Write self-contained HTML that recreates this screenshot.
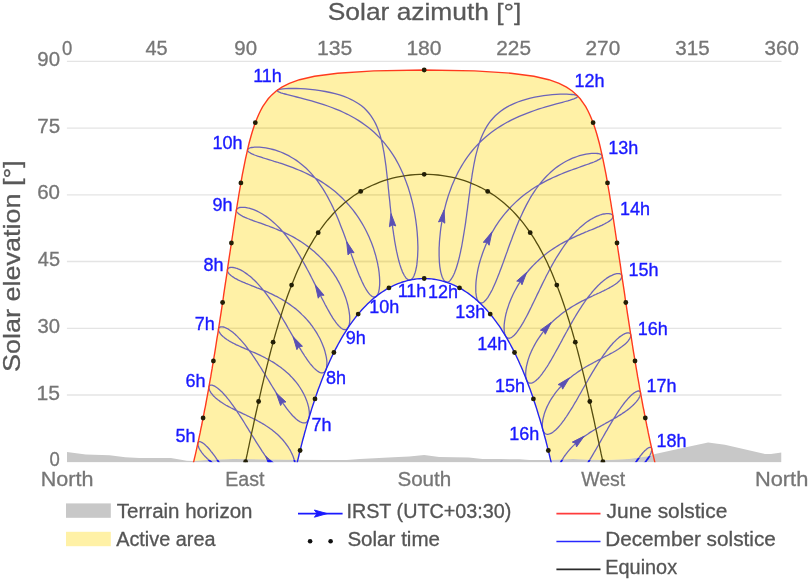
<!DOCTYPE html>
<html><head><meta charset="utf-8"><title>Sun path</title>
<style>html,body{margin:0;padding:0;background:#fff}svg{display:block}text{font-family:"Liberation Sans",sans-serif}</style>
</head><body>
<svg width="808" height="583" viewBox="0 0 808 583">
<defs><clipPath id="plot"><rect x="66.9" y="50" width="714.6" height="412.3"/></clipPath>
<clipPath id="sky"><path d="M66.9 39.1L66.9 451.9L85.8 454.5L109.6 455.3L125.3 457.3L139.2 457.9L170.9 457.9L186.8 460.8L193.9 461.0L205.9 459.9L233.6 458.9L265.4 459.5L289.2 459.7L325.0 460.1L346.8 460.1L359.9 458.9L393.4 457.3L409.3 456.5L424.2 454.9L439.1 456.9L468.7 457.5L482.6 458.9L500.0 459.1L519.5 459.3L529.4 460.1L551.2 460.1L573.1 458.9L589.0 459.7L608.8 459.9L628.7 458.9L649.9 455.9L655.1 454.0L680.1 448.4L708.1 442.5L724.9 444.8L765.0 454.0L771.0 454.1L781.5 452.4L781.5 39.1Z"/></clipPath><clipPath id="ter"><path d="M66.9 462.6L66.9 451.9L85.8 454.5L109.6 455.3L125.3 457.3L139.2 457.9L170.9 457.9L186.8 460.8L193.9 461.0L205.9 459.9L233.6 458.9L265.4 459.5L289.2 459.7L325.0 460.1L346.8 460.1L359.9 458.9L393.4 457.3L409.3 456.5L424.2 454.9L439.1 456.9L468.7 457.5L482.6 458.9L500.0 459.1L519.5 459.3L529.4 460.1L551.2 460.1L573.1 458.9L589.0 459.7L608.8 459.9L628.7 458.9L649.9 455.9L655.1 454.0L680.1 448.4L708.1 442.5L724.9 444.8L765.0 454.0L771.0 454.1L781.5 452.4L781.5 462.6Z"/></clipPath></defs>
<rect width="808" height="583" fill="#fff"/>
<line x1="66.9" x2="781.5" y1="395.0" y2="395.0" stroke="#e4e4e4" stroke-width="1.3"/>
<line x1="66.9" x2="781.5" y1="328.3" y2="328.3" stroke="#e4e4e4" stroke-width="1.3"/>
<line x1="66.9" x2="781.5" y1="261.5" y2="261.5" stroke="#e4e4e4" stroke-width="1.3"/>
<line x1="66.9" x2="781.5" y1="194.8" y2="194.8" stroke="#e4e4e4" stroke-width="1.3"/>
<line x1="66.9" x2="781.5" y1="128.1" y2="128.1" stroke="#e4e4e4" stroke-width="1.3"/>
<line x1="66.9" x2="781.5" y1="61.4" y2="61.4" stroke="#e4e4e4" stroke-width="1.3"/>
<g clip-path="url(#plot)">
<path d="M66.9 462.6L66.9 451.9L85.8 454.5L109.6 455.3L125.3 457.3L139.2 457.9L170.9 457.9L186.8 460.8L193.9 461.0L205.9 459.9L233.6 458.9L265.4 459.5L289.2 459.7L325.0 460.1L346.8 460.1L359.9 458.9L393.4 457.3L409.3 456.5L424.2 454.9L439.1 456.9L468.7 457.5L482.6 458.9L500.0 459.1L519.5 459.3L529.4 460.1L551.2 460.1L573.1 458.9L589.0 459.7L608.8 459.9L628.7 458.9L649.9 455.9L655.1 454.0L680.1 448.4L708.1 442.5L724.9 444.8L765.0 454.0L771.0 454.1L781.5 452.4L781.5 462.6Z" fill="#c8c8c8"/>
<path d="M282.2 531.5L281.7 532.1L281.1 532.7L280.5 533.2L279.9 533.5L279.2 533.9L278.4 534.1L277.6 534.2L276.8 534.3L275.9 534.3L274.9 534.1L274.0 533.9L273.0 533.6L271.9 533.2L270.9 532.7L269.8 532.2L268.6 531.5L267.5 530.7L266.3 529.9L265.1 528.9L263.9 527.9L262.6 526.8L261.4 525.6L260.1 524.3L258.8 522.9L257.5 521.5L256.2 519.9L254.9 518.3L253.6 516.7L252.3 515.0L251.0 513.2L249.6 511.4L248.3 509.5L247.0 507.6L245.7 505.6L244.3 503.6L243.0 501.6L241.7 499.5L240.4 497.4L239.1 495.3L237.8 493.2L236.5 491.1L235.2 489.0L234.0 486.8L232.7 484.7L231.4 482.6L230.2 480.5L228.9 478.5L227.7 476.4L226.5 474.4L225.3 472.4L224.1 470.5L222.9 468.6L221.7 466.7L220.6 464.9L219.4 463.1L218.3 461.4L217.2 459.8L216.1 458.2L215.1 456.7L214.0 455.2L213.0 453.8L212.0 452.5L211.0 451.3L210.1 450.1L209.2 449.0L208.3 448.0L207.4 447.0L206.5 446.2L205.7 445.4L205.0 444.7L204.2 444.0L203.5 443.5L202.8 443.0L202.2 442.6L201.6 442.3L201.0 442.0L200.5 441.8L200.1 441.7L199.6 441.7L199.2 441.7L198.9 441.8L198.6 441.9L198.4 442.2L198.2 442.4L198.0 442.8L197.9 443.1L197.9 443.6L197.9 444.1L197.9 444.6L198.0 445.2L198.2 445.8L198.4 446.4L198.6 447.1L198.9 447.8L199.3 448.6L199.7 449.3L200.1 450.1L200.7 450.9L201.2 451.7L201.8 452.6L202.5 453.4L203.2 454.3L203.9 455.2L204.7 456.1L205.6 456.9L206.5 457.8L207.4 458.7L208.4 459.6L209.4 460.5L210.4 461.3L211.5 462.2L212.7 463.1L213.8 463.9L215.0 464.8L216.3 465.6L217.6 466.5L218.9 467.3L220.2 468.1L221.5 468.9L222.9 469.7L224.3 470.5L225.7 471.3L227.2 472.1L228.7 472.9L230.1 473.6L231.6 474.4L233.1 475.2L234.7 475.9L236.2 476.7L237.7 477.5L239.3 478.3L240.8 479.0L242.4 479.8L243.9 480.6L245.5 481.4L247.0 482.2L248.5 483.0L250.1 483.8L251.6 484.7L253.1 485.5L254.6 486.4L256.1 487.3L257.5 488.2L259.0 489.2L260.4 490.1L261.8 491.1L263.1 492.1L264.5 493.1L265.8 494.1L267.1 495.2L268.3 496.2L269.5 497.3L270.7 498.5L271.8 499.6L272.9 500.8L274.0 501.9L275.0 503.1L275.9 504.3L276.8 505.6L277.7 506.8L278.5 508.0L279.3 509.3L280.0 510.5L280.6 511.8L281.2 513.1L281.8 514.3L282.3 515.6L282.7 516.8L283.1 518.0L283.4 519.2L283.6 520.4L283.8 521.6L284.0 522.7L284.0 523.8L284.1 524.9L284.0 525.9L283.9 526.9L283.7 527.9L283.5 528.8L283.2 529.6L282.9 530.4L282.5 531.1ZM293.4 475.4L292.9 475.9L292.3 476.3L291.7 476.7L291.1 476.9L290.4 477.1L289.7 477.2L288.9 477.2L288.1 477.2L287.2 477.0L286.3 476.7L285.4 476.3L284.4 475.9L283.5 475.3L282.4 474.7L281.4 474.0L280.3 473.1L279.2 472.2L278.1 471.2L277.0 470.1L275.8 469.0L274.7 467.7L273.5 466.4L272.3 465.0L271.0 463.5L269.8 461.9L268.6 460.3L267.3 458.6L266.1 456.9L264.8 455.1L263.5 453.2L262.2 451.3L261.0 449.4L259.7 447.4L258.4 445.4L257.1 443.4L255.8 441.3L254.5 439.2L253.2 437.1L251.9 435.0L250.6 432.9L249.3 430.8L248.0 428.7L246.7 426.6L245.4 424.5L244.2 422.5L242.9 420.4L241.6 418.4L240.3 416.4L239.1 414.5L237.8 412.6L236.6 410.7L235.4 408.9L234.1 407.1L232.9 405.4L231.7 403.8L230.5 402.2L229.4 400.6L228.2 399.2L227.1 397.8L226.0 396.4L224.9 395.2L223.8 394.0L222.8 392.9L221.8 391.8L220.8 390.9L219.8 390.0L218.9 389.2L218.0 388.4L217.1 387.8L216.3 387.2L215.5 386.7L214.7 386.2L214.0 385.9L213.3 385.6L212.7 385.4L212.1 385.2L211.6 385.1L211.1 385.1L210.6 385.1L210.2 385.2L209.9 385.4L209.6 385.6L209.3 385.9L209.1 386.2L209.0 386.6L208.9 387.0L208.9 387.4L208.9 387.9L209.0 388.4L209.1 389.0L209.3 389.5L209.5 390.1L209.8 390.8L210.2 391.4L210.6 392.1L211.0 392.8L211.5 393.5L212.1 394.2L212.7 394.9L213.3 395.7L214.1 396.4L214.8 397.1L215.6 397.9L216.5 398.6L217.4 399.4L218.3 400.1L219.3 400.8L220.3 401.6L221.4 402.3L222.5 403.0L223.6 403.8L224.8 404.5L226.0 405.2L227.3 405.9L228.6 406.6L229.9 407.3L231.2 408.0L232.6 408.7L234.0 409.4L235.4 410.1L236.9 410.8L238.3 411.5L239.8 412.2L241.3 412.9L242.8 413.6L244.4 414.3L245.9 415.0L247.5 415.8L249.0 416.5L250.6 417.3L252.1 418.0L253.7 418.8L255.3 419.6L256.8 420.4L258.4 421.3L259.9 422.1L261.5 423.0L263.0 423.9L264.5 424.8L266.0 425.8L267.5 426.7L269.0 427.7L270.4 428.8L271.9 429.8L273.3 430.9L274.6 432.0L276.0 433.2L277.3 434.3L278.6 435.5L279.8 436.7L281.0 438.0L282.2 439.2L283.3 440.5L284.4 441.8L285.4 443.1L286.4 444.5L287.4 445.8L288.3 447.2L289.1 448.5L290.0 449.9L290.7 451.3L291.4 452.7L292.1 454.1L292.7 455.4L293.2 456.8L293.7 458.2L294.1 459.5L294.5 460.8L294.8 462.1L295.0 463.4L295.2 464.6L295.4 465.8L295.5 467.0L295.5 468.1L295.4 469.1L295.4 470.2L295.2 471.1L295.0 472.0L294.7 472.9L294.4 473.7L294.1 474.4L293.7 475.0ZM306.8 421.9L306.3 422.3L305.7 422.6L305.1 422.8L304.4 422.9L303.7 422.9L303.0 422.8L302.2 422.7L301.4 422.4L300.6 422.0L299.7 421.6L298.8 421.0L297.8 420.4L296.8 419.6L295.8 418.8L294.8 417.8L293.8 416.8L292.7 415.7L291.6 414.5L290.5 413.2L289.4 411.8L288.2 410.4L287.0 408.9L285.9 407.3L284.7 405.6L283.4 403.9L282.2 402.1L281.0 400.2L279.7 398.3L278.5 396.4L277.2 394.4L275.9 392.3L274.6 390.2L273.3 388.1L272.0 386.0L270.7 383.9L269.4 381.7L268.1 379.5L266.7 377.3L265.4 375.1L264.1 373.0L262.7 370.8L261.4 368.6L260.0 366.5L258.6 364.3L257.3 362.2L255.9 360.2L254.6 358.1L253.2 356.2L251.9 354.2L250.5 352.3L249.2 350.5L247.8 348.7L246.5 346.9L245.2 345.2L243.9 343.6L242.6 342.1L241.3 340.6L240.0 339.2L238.7 337.9L237.5 336.6L236.3 335.4L235.1 334.3L233.9 333.3L232.8 332.3L231.7 331.5L230.6 330.7L229.5 330.0L228.5 329.3L227.6 328.7L226.6 328.3L225.7 327.8L224.9 327.5L224.1 327.2L223.3 327.0L222.6 326.9L222.0 326.8L221.4 326.8L220.8 326.9L220.3 327.0L219.9 327.1L219.5 327.3L219.2 327.6L218.9 327.9L218.7 328.2L218.6 328.6L218.5 329.0L218.5 329.5L218.5 330.0L218.6 330.5L218.8 331.0L219.0 331.6L219.3 332.1L219.7 332.7L220.1 333.3L220.5 333.9L221.0 334.5L221.6 335.2L222.2 335.8L222.9 336.5L223.7 337.1L224.5 337.7L225.3 338.4L226.2 339.0L227.2 339.7L228.2 340.3L229.2 341.0L230.3 341.6L231.5 342.2L232.6 342.9L233.9 343.5L235.1 344.1L236.4 344.8L237.8 345.4L239.1 346.0L240.5 346.7L242.0 347.3L243.4 347.9L244.9 348.6L246.4 349.2L248.0 349.9L249.6 350.6L251.1 351.3L252.7 352.0L254.4 352.7L256.0 353.4L257.6 354.1L259.3 354.9L260.9 355.7L262.6 356.5L264.3 357.3L265.9 358.2L267.6 359.1L269.3 360.0L270.9 361.0L272.6 361.9L274.2 362.9L275.8 364.0L277.4 365.1L279.0 366.2L280.6 367.3L282.1 368.5L283.7 369.7L285.2 370.9L286.6 372.2L288.1 373.5L289.5 374.8L290.8 376.2L292.2 377.6L293.4 379.0L294.7 380.5L295.9 381.9L297.1 383.4L298.2 384.9L299.3 386.5L300.3 388.0L301.2 389.5L302.2 391.1L303.0 392.7L303.9 394.2L304.6 395.8L305.3 397.3L306.0 398.9L306.6 400.4L307.1 401.9L307.6 403.4L308.0 404.9L308.4 406.3L308.7 407.7L308.9 409.1L309.1 410.4L309.3 411.6L309.3 412.9L309.4 414.0L309.3 415.2L309.2 416.2L309.1 417.2L308.9 418.1L308.6 419.0L308.3 419.7L308.0 420.4L307.6 421.1L307.1 421.6ZM323.6 372.5L323.1 372.7L322.4 372.8L321.8 372.9L321.1 372.8L320.4 372.6L319.6 372.3L318.8 371.9L318.0 371.4L317.1 370.8L316.2 370.1L315.3 369.3L314.3 368.4L313.3 367.4L312.3 366.2L311.3 365.0L310.3 363.8L309.2 362.4L308.1 360.9L307.0 359.3L305.9 357.7L304.7 356.0L303.6 354.2L302.4 352.3L301.2 350.4L300.0 348.4L298.7 346.4L297.5 344.3L296.2 342.1L294.9 339.9L293.6 337.7L292.3 335.4L291.0 333.1L289.7 330.8L288.3 328.5L287.0 326.1L285.6 323.7L284.2 321.4L282.8 319.0L281.4 316.6L280.0 314.3L278.5 311.9L277.1 309.6L275.6 307.3L274.1 305.0L272.6 302.8L271.1 300.6L269.6 298.5L268.1 296.4L266.6 294.3L265.1 292.4L263.5 290.4L262.0 288.6L260.5 286.8L259.0 285.1L257.4 283.4L255.9 281.8L254.4 280.3L252.9 278.9L251.5 277.6L250.0 276.3L248.5 275.2L247.1 274.1L245.7 273.1L244.4 272.2L243.0 271.3L241.8 270.6L240.5 269.9L239.3 269.4L238.1 268.9L237.0 268.4L235.9 268.1L234.9 267.8L233.9 267.6L233.0 267.5L232.2 267.4L231.4 267.4L230.7 267.4L230.1 267.5L229.5 267.7L229.0 267.9L228.5 268.2L228.2 268.4L227.9 268.8L227.6 269.1L227.5 269.5L227.4 270.0L227.4 270.4L227.5 270.9L227.6 271.4L227.8 271.9L228.1 272.4L228.5 273.0L228.9 273.5L229.4 274.1L229.9 274.6L230.6 275.2L231.3 275.8L232.0 276.3L232.9 276.9L233.8 277.5L234.7 278.1L235.7 278.7L236.8 279.2L237.9 279.8L239.1 280.4L240.4 281.0L241.7 281.6L243.0 282.2L244.4 282.7L245.8 283.3L247.3 283.9L248.8 284.5L250.4 285.2L252.0 285.8L253.6 286.4L255.3 287.1L257.0 287.8L258.7 288.4L260.5 289.1L262.3 289.9L264.1 290.6L265.9 291.4L267.7 292.2L269.6 293.1L271.4 293.9L273.3 294.8L275.2 295.8L277.1 296.7L278.9 297.7L280.8 298.8L282.7 299.9L284.5 301.0L286.4 302.2L288.2 303.4L290.0 304.6L291.8 305.9L293.6 307.3L295.4 308.6L297.1 310.1L298.8 311.5L300.4 313.0L302.0 314.6L303.6 316.1L305.2 317.7L306.7 319.4L308.1 321.0L309.6 322.7L310.9 324.5L312.2 326.2L313.5 328.0L314.7 329.8L315.9 331.6L317.0 333.4L318.0 335.2L319.0 337.0L320.0 338.8L320.9 340.7L321.7 342.5L322.4 344.2L323.1 346.0L323.8 347.8L324.4 349.5L324.9 351.2L325.3 352.9L325.7 354.5L326.1 356.1L326.4 357.6L326.6 359.1L326.8 360.5L326.9 361.9L326.9 363.2L326.9 364.4L326.8 365.6L326.7 366.7L326.6 367.7L326.3 368.6L326.1 369.5L325.7 370.2L325.4 370.9L325.0 371.5L324.5 371.9L324.0 372.3ZM345.3 329.6L344.6 329.6L344.0 329.5L343.3 329.3L342.5 328.9L341.8 328.5L341.0 327.9L340.2 327.2L339.3 326.4L338.4 325.5L337.5 324.4L336.6 323.3L335.7 322.1L334.7 320.7L333.7 319.3L332.7 317.8L331.7 316.1L330.6 314.4L329.6 312.6L328.5 310.7L327.4 308.7L326.3 306.6L325.1 304.5L324.0 302.3L322.8 300.0L321.6 297.7L320.4 295.3L319.2 292.8L317.9 290.3L316.7 287.8L315.4 285.2L314.1 282.6L312.8 280.0L311.4 277.3L310.1 274.6L308.7 272.0L307.2 269.3L305.8 266.6L304.3 263.9L302.8 261.2L301.3 258.6L299.8 255.9L298.2 253.3L296.6 250.7L295.0 248.2L293.3 245.7L291.6 243.2L289.9 240.8L288.2 238.5L286.4 236.2L284.7 234.0L282.9 231.9L281.0 229.8L279.2 227.8L277.3 225.9L275.5 224.1L273.6 222.4L271.7 220.8L269.9 219.2L268.0 217.8L266.1 216.4L264.3 215.2L262.4 214.0L260.6 213.0L258.8 212.0L257.1 211.1L255.4 210.4L253.7 209.7L252.1 209.1L250.6 208.6L249.1 208.2L247.6 207.9L246.3 207.6L245.0 207.4L243.8 207.3L242.7 207.3L241.6 207.3L240.7 207.4L239.8 207.5L239.1 207.7L238.4 208.0L237.8 208.3L237.3 208.6L237.0 208.9L236.7 209.3L236.5 209.7L236.4 210.1L236.4 210.6L236.5 211.1L236.7 211.5L237.0 212.0L237.4 212.6L237.9 213.1L238.5 213.6L239.1 214.1L239.9 214.6L240.7 215.2L241.7 215.7L242.7 216.3L243.8 216.8L245.0 217.4L246.2 217.9L247.6 218.5L249.0 219.0L250.4 219.6L252.0 220.2L253.6 220.8L255.2 221.4L257.0 222.0L258.8 222.6L260.6 223.2L262.5 223.9L264.5 224.6L266.4 225.3L268.5 226.0L270.5 226.8L272.7 227.6L274.8 228.5L277.0 229.3L279.1 230.3L281.3 231.2L283.6 232.2L285.8 233.3L288.1 234.4L290.3 235.5L292.6 236.7L294.8 237.9L297.0 239.2L299.3 240.6L301.5 242.0L303.7 243.5L305.8 245.0L308.0 246.6L310.1 248.2L312.2 249.9L314.2 251.6L316.2 253.4L318.2 255.2L320.1 257.1L322.0 259.0L323.8 260.9L325.5 262.9L327.2 265.0L328.9 267.0L330.5 269.1L332.0 271.3L333.5 273.4L334.9 275.6L336.3 277.7L337.5 279.9L338.8 282.1L339.9 284.3L341.0 286.5L342.0 288.7L343.0 290.9L343.9 293.0L344.7 295.2L345.5 297.3L346.2 299.4L346.8 301.4L347.4 303.5L347.9 305.4L348.3 307.3L348.7 309.2L349.0 311.0L349.3 312.8L349.5 314.5L349.7 316.1L349.7 317.6L349.8 319.1L349.7 320.5L349.7 321.8L349.5 323.0L349.4 324.1L349.1 325.1L348.8 326.0L348.5 326.9L348.1 327.6L347.7 328.2L347.3 328.7L346.8 329.1L346.2 329.4L345.7 329.6ZM373.1 296.8L372.4 296.5L371.7 296.1L371.0 295.6L370.2 294.9L369.5 294.1L368.7 293.2L367.9 292.1L367.1 291.0L366.3 289.7L365.5 288.3L364.6 286.8L363.8 285.2L362.9 283.4L362.0 281.6L361.2 279.7L360.3 277.6L359.3 275.5L358.4 273.3L357.5 271.0L356.6 268.6L355.6 266.1L354.6 263.5L353.7 260.9L352.7 258.2L351.7 255.5L350.7 252.6L349.6 249.8L348.6 246.8L347.5 243.9L346.4 240.9L345.3 237.8L344.2 234.7L343.0 231.6L341.8 228.5L340.6 225.4L339.4 222.2L338.1 219.1L336.8 216.0L335.4 212.8L334.0 209.7L332.6 206.6L331.1 203.5L329.5 200.5L327.9 197.4L326.3 194.5L324.6 191.6L322.8 188.7L320.9 185.9L319.0 183.1L317.1 180.4L315.0 177.9L312.9 175.3L310.7 172.9L308.5 170.6L306.2 168.3L303.8 166.2L301.4 164.2L298.9 162.2L296.4 160.4L293.8 158.7L291.2 157.2L288.6 155.7L285.9 154.4L283.3 153.1L280.7 152.0L278.1 151.1L275.5 150.2L273.0 149.5L270.5 148.8L268.1 148.3L265.8 147.9L263.6 147.6L261.5 147.3L259.6 147.2L257.7 147.1L256.0 147.1L254.5 147.2L253.1 147.3L251.8 147.5L250.7 147.7L249.8 148.0L249.0 148.3L248.4 148.7L247.9 149.1L247.6 149.5L247.5 149.9L247.5 150.4L247.7 150.9L248.1 151.3L248.6 151.8L249.2 152.3L250.0 152.8L250.9 153.4L252.0 153.9L253.2 154.4L254.5 155.0L256.0 155.5L257.6 156.1L259.3 156.6L261.1 157.2L263.1 157.9L265.1 158.5L267.2 159.1L269.5 159.8L271.8 160.5L274.2 161.3L276.7 162.0L279.3 162.9L281.9 163.7L284.6 164.6L287.3 165.6L290.1 166.6L293.0 167.6L295.8 168.8L298.7 170.0L301.6 171.2L304.5 172.5L307.4 173.9L310.3 175.4L313.2 176.9L316.0 178.5L318.9 180.1L321.7 181.9L324.5 183.7L327.2 185.6L329.9 187.5L332.5 189.5L335.1 191.6L337.6 193.8L340.0 196.0L342.4 198.3L344.7 200.6L347.0 203.0L349.1 205.4L351.2 207.9L353.3 210.4L355.2 213.0L357.1 215.6L358.8 218.2L360.5 220.9L362.2 223.6L363.7 226.3L365.2 229.0L366.6 231.7L367.9 234.4L369.1 237.1L370.3 239.9L371.4 242.6L372.4 245.3L373.4 247.9L374.2 250.6L375.0 253.2L375.8 255.8L376.4 258.3L377.0 260.8L377.6 263.3L378.0 265.7L378.5 268.0L378.8 270.3L379.1 272.5L379.3 274.7L379.5 276.7L379.6 278.7L379.7 280.6L379.7 282.4L379.7 284.1L379.6 285.8L379.4 287.3L379.3 288.7L379.0 290.1L378.8 291.3L378.5 292.4L378.1 293.4L377.7 294.3L377.3 295.0L376.9 295.7L376.4 296.2L375.8 296.6L375.3 296.9L374.7 297.0L374.1 297.1L373.5 297.0ZM406.9 278.8L406.2 278.2L405.6 277.4L405.0 276.5L404.3 275.5L403.7 274.3L403.1 273.1L402.4 271.7L401.8 270.1L401.2 268.5L400.6 266.7L400.0 264.9L399.4 262.9L398.8 260.8L398.3 258.6L397.7 256.3L397.2 253.9L396.6 251.4L396.1 248.8L395.6 246.2L395.1 243.4L394.6 240.6L394.2 237.7L393.7 234.7L393.3 231.6L392.8 228.5L392.4 225.3L392.0 222.1L391.6 218.8L391.2 215.5L390.8 212.1L390.5 208.7L390.1 205.3L389.8 201.8L389.4 198.3L389.0 194.8L388.7 191.3L388.3 187.7L388.0 184.2L387.6 180.6L387.2 177.0L386.8 173.5L386.4 170.0L386.0 166.4L385.5 162.9L385.0 159.4L384.5 156.0L384.0 152.6L383.3 149.2L382.7 145.8L382.0 142.5L381.2 139.3L380.3 136.1L379.3 132.9L378.2 129.8L377.0 126.8L375.7 123.9L374.2 121.0L372.6 118.3L370.8 115.6L368.8 113.0L366.6 110.5L364.2 108.1L361.5 105.8L358.6 103.7L355.3 101.7L351.8 99.8L348.0 98.0L344.0 96.4L339.6 94.9L335.0 93.6L330.2 92.5L325.3 91.5L320.2 90.6L315.1 89.9L310.1 89.3L305.3 88.9L300.6 88.6L296.3 88.5L292.3 88.4L288.7 88.5L285.6 88.6L283.0 88.8L280.9 89.1L279.2 89.4L278.1 89.8L277.4 90.2L277.3 90.6L277.5 91.1L278.3 91.6L279.4 92.2L280.9 92.8L282.8 93.4L285.0 94.0L287.5 94.7L290.3 95.4L293.4 96.2L296.7 97.0L300.2 97.9L303.8 98.8L307.6 99.8L311.6 100.9L315.5 102.1L319.6 103.3L323.7 104.6L327.7 106.0L331.8 107.5L335.8 109.1L339.8 110.7L343.7 112.5L347.5 114.3L351.2 116.3L354.8 118.3L358.3 120.4L361.7 122.6L365.0 124.9L368.1 127.3L371.2 129.8L374.1 132.3L376.9 135.0L379.5 137.6L382.1 140.4L384.5 143.2L386.8 146.1L389.1 149.1L391.2 152.1L393.2 155.1L395.1 158.2L396.9 161.4L398.6 164.5L400.2 167.8L401.7 171.0L403.2 174.3L404.5 177.6L405.8 180.9L407.0 184.2L408.2 187.5L409.2 190.9L410.2 194.2L411.1 197.5L412.0 200.8L412.8 204.2L413.5 207.4L414.2 210.7L414.8 214.0L415.3 217.2L415.8 220.4L416.2 223.5L416.6 226.6L416.9 229.6L417.2 232.6L417.4 235.6L417.6 238.4L417.7 241.3L417.8 244.0L417.9 246.7L417.9 249.3L417.8 251.8L417.7 254.2L417.6 256.6L417.4 258.8L417.2 260.9L417.0 263.0L416.8 264.9L416.5 266.8L416.1 268.5L415.8 270.1L415.4 271.6L415.0 273.0L414.5 274.3L414.1 275.5L413.6 276.5L413.1 277.4L412.6 278.1L412.0 278.8L411.5 279.3L410.9 279.7L410.3 279.9L409.7 280.0L409.1 280.0L408.5 279.9L407.9 279.6L407.3 279.1ZM443.3 279.3L442.8 278.3L442.3 277.3L441.9 276.1L441.5 274.8L441.1 273.3L440.7 271.8L440.4 270.1L440.1 268.4L439.8 266.5L439.6 264.5L439.4 262.4L439.3 260.2L439.2 258.0L439.1 255.6L439.1 253.1L439.1 250.6L439.1 248.0L439.3 245.3L439.4 242.5L439.6 239.7L439.9 236.8L440.2 233.8L440.5 230.8L440.9 227.7L441.4 224.6L441.9 221.5L442.5 218.3L443.2 215.1L443.9 211.8L444.7 208.6L445.5 205.3L446.4 202.0L447.4 198.7L448.4 195.4L449.6 192.1L450.8 188.7L452.0 185.4L453.4 182.2L454.8 178.9L456.4 175.7L458.0 172.4L459.7 169.3L461.5 166.1L463.4 163.0L465.4 159.9L467.5 156.9L469.7 153.9L472.0 151.0L474.4 148.2L476.9 145.4L479.5 142.7L482.3 140.1L485.1 137.5L488.1 135.0L491.2 132.6L494.3 130.3L497.6 128.0L501.0 125.9L504.5 123.8L508.0 121.8L511.7 119.9L515.4 118.1L519.2 116.4L523.0 114.8L526.8 113.3L530.7 111.8L534.5 110.5L538.3 109.2L542.1 108.0L545.8 106.9L549.4 105.9L552.9 104.9L556.3 103.9L559.4 103.1L562.4 102.3L565.2 101.5L567.8 100.8L570.1 100.1L572.2 99.4L573.9 98.8L575.4 98.2L576.5 97.7L577.2 97.1L577.6 96.6L577.7 96.2L577.3 95.8L576.6 95.4L575.4 95.0L573.8 94.7L571.8 94.5L569.5 94.3L566.7 94.2L563.6 94.2L560.1 94.2L556.3 94.4L552.3 94.7L548.1 95.1L543.7 95.7L539.3 96.4L534.8 97.2L530.4 98.2L526.0 99.3L521.8 100.6L517.8 102.0L513.9 103.6L510.2 105.3L506.8 107.1L503.6 109.1L500.6 111.2L497.9 113.4L495.3 115.7L493.0 118.2L490.8 120.7L488.8 123.4L487.0 126.1L485.4 128.9L483.9 131.8L482.5 134.8L481.2 137.8L480.0 140.9L479.0 144.1L478.0 147.3L477.1 150.6L476.2 153.9L475.4 157.2L474.7 160.6L474.0 164.0L473.4 167.5L472.8 170.9L472.2 174.4L471.7 177.9L471.1 181.4L470.6 184.9L470.1 188.5L469.7 192.0L469.2 195.5L468.7 198.9L468.3 202.4L467.8 205.9L467.4 209.3L466.9 212.7L466.5 216.0L466.0 219.3L465.6 222.6L465.1 225.8L464.6 229.0L464.1 232.1L463.6 235.2L463.1 238.2L462.6 241.1L462.1 244.0L461.6 246.8L461.0 249.5L460.5 252.1L459.9 254.6L459.4 257.0L458.8 259.4L458.2 261.6L457.6 263.8L457.0 265.8L456.4 267.7L455.8 269.6L455.1 271.3L454.5 272.9L453.9 274.3L453.2 275.7L452.6 276.9L451.9 278.0L451.3 279.0L450.7 279.8L450.0 280.6L449.4 281.2L448.8 281.6L448.1 281.9L447.5 282.1L446.9 282.2L446.3 282.1L445.7 281.9L445.2 281.6L444.6 281.1L444.1 280.5L443.6 279.8ZM476.8 298.1L476.5 296.9L476.3 295.7L476.1 294.3L475.9 292.9L475.8 291.3L475.8 289.7L475.8 287.9L475.8 286.1L475.9 284.2L476.0 282.2L476.2 280.1L476.5 278.0L476.8 275.7L477.2 273.5L477.6 271.1L478.1 268.7L478.7 266.2L479.3 263.7L480.0 261.2L480.8 258.6L481.7 256.0L482.6 253.3L483.5 250.7L484.6 248.0L485.7 245.3L486.9 242.6L488.2 239.9L489.5 237.2L490.9 234.5L492.4 231.8L494.0 229.1L495.6 226.4L497.3 223.8L499.1 221.2L501.0 218.6L502.9 216.1L504.9 213.6L507.0 211.2L509.2 208.8L511.4 206.4L513.7 204.1L516.0 201.9L518.4 199.7L520.9 197.6L523.4 195.6L526.0 193.6L528.6 191.7L531.2 189.8L533.9 188.0L536.6 186.3L539.3 184.7L542.1 183.1L544.8 181.6L547.6 180.2L550.4 178.8L553.1 177.5L555.9 176.3L558.6 175.1L561.3 174.0L563.9 172.9L566.5 171.9L569.1 170.9L571.6 170.0L574.0 169.1L576.4 168.3L578.7 167.5L580.9 166.7L583.1 165.9L585.1 165.2L587.1 164.5L588.9 163.9L590.7 163.2L592.3 162.6L593.9 162.0L595.3 161.4L596.6 160.8L597.7 160.2L598.8 159.7L599.7 159.1L600.5 158.6L601.1 158.1L601.6 157.6L602.0 157.1L602.2 156.6L602.3 156.1L602.2 155.7L602.0 155.3L601.6 154.9L601.0 154.5L600.4 154.2L599.5 153.9L598.6 153.7L597.5 153.5L596.2 153.4L594.8 153.3L593.3 153.3L591.6 153.4L589.8 153.6L588.0 153.8L586.0 154.1L583.9 154.6L581.7 155.1L579.5 155.7L577.2 156.5L574.8 157.3L572.5 158.2L570.0 159.3L567.6 160.5L565.2 161.8L562.7 163.2L560.3 164.7L557.9 166.4L555.6 168.1L553.2 170.0L550.9 172.0L548.7 174.1L546.5 176.2L544.4 178.5L542.3 180.9L540.3 183.3L538.3 185.8L536.4 188.5L534.6 191.1L532.8 193.9L531.0 196.7L529.4 199.5L527.8 202.4L526.2 205.4L524.7 208.4L523.2 211.4L521.8 214.5L520.4 217.5L519.0 220.6L517.7 223.7L516.4 226.8L515.2 229.9L514.0 233.0L512.8 236.1L511.7 239.2L510.5 242.2L509.4 245.3L508.3 248.2L507.3 251.2L506.2 254.1L505.2 257.0L504.2 259.8L503.2 262.6L502.2 265.3L501.2 267.9L500.2 270.5L499.3 273.0L498.3 275.4L497.4 277.8L496.5 280.0L495.6 282.2L494.7 284.3L493.8 286.3L492.9 288.2L492.1 290.0L491.2 291.6L490.3 293.2L489.5 294.7L488.7 296.0L487.9 297.3L487.1 298.4L486.3 299.4L485.6 300.3L484.8 301.0L484.1 301.7L483.4 302.2L482.7 302.6L482.0 302.8L481.4 303.0L480.8 303.0L480.2 302.9L479.7 302.7L479.1 302.3L478.6 301.8L478.2 301.2L477.8 300.5L477.4 299.7L477.0 298.7ZM504.3 331.4L504.2 330.2L504.1 328.9L504.1 327.5L504.1 326.0L504.2 324.5L504.4 322.8L504.6 321.1L504.9 319.4L505.2 317.5L505.6 315.7L506.0 313.7L506.6 311.7L507.1 309.7L507.8 307.7L508.5 305.6L509.2 303.4L510.1 301.3L511.0 299.1L511.9 296.9L512.9 294.7L514.0 292.5L515.2 290.3L516.4 288.1L517.6 285.9L519.0 283.7L520.4 281.5L521.8 279.4L523.3 277.2L524.9 275.1L526.5 273.1L528.2 271.0L529.9 269.0L531.7 267.0L533.5 265.1L535.4 263.2L537.3 261.4L539.3 259.6L541.3 257.8L543.3 256.1L545.3 254.4L547.4 252.8L549.5 251.3L551.7 249.8L553.8 248.4L555.9 247.0L558.1 245.6L560.3 244.3L562.4 243.1L564.6 241.9L566.8 240.8L568.9 239.7L571.1 238.6L573.2 237.6L575.3 236.6L577.3 235.7L579.4 234.8L581.4 233.9L583.4 233.1L585.3 232.2L587.2 231.5L589.0 230.7L590.8 230.0L592.6 229.3L594.3 228.6L595.9 227.9L597.5 227.2L599.0 226.6L600.4 225.9L601.8 225.3L603.1 224.6L604.4 224.0L605.5 223.4L606.6 222.8L607.6 222.2L608.5 221.6L609.4 221.1L610.1 220.5L610.8 219.9L611.4 219.4L611.9 218.8L612.3 218.3L612.6 217.8L612.8 217.3L612.9 216.8L613.0 216.3L612.9 215.9L612.7 215.5L612.5 215.1L612.2 214.7L611.7 214.4L611.2 214.2L610.6 213.9L609.9 213.8L609.1 213.6L608.2 213.6L607.3 213.6L606.2 213.6L605.1 213.8L603.9 214.0L602.6 214.2L601.3 214.6L599.9 215.0L598.5 215.6L597.0 216.2L595.4 216.9L593.8 217.7L592.2 218.6L590.5 219.5L588.9 220.6L587.1 221.8L585.4 223.0L583.7 224.4L581.9 225.9L580.1 227.4L578.4 229.1L576.6 230.8L574.9 232.6L573.1 234.5L571.4 236.5L569.7 238.5L568.0 240.7L566.3 242.9L564.6 245.1L563.0 247.5L561.4 249.9L559.8 252.3L558.2 254.8L556.6 257.3L555.1 259.9L553.6 262.5L552.1 265.1L550.7 267.8L549.2 270.5L547.8 273.2L546.4 275.8L545.1 278.5L543.7 281.2L542.4 283.9L541.1 286.6L539.8 289.2L538.6 291.9L537.3 294.4L536.1 297.0L534.9 299.5L533.7 302.0L532.5 304.4L531.4 306.8L530.2 309.1L529.1 311.4L528.0 313.6L526.9 315.7L525.8 317.7L524.7 319.7L523.7 321.6L522.7 323.4L521.6 325.1L520.7 326.7L519.7 328.2L518.7 329.6L517.8 330.9L516.9 332.2L516.0 333.3L515.1 334.3L514.2 335.2L513.4 335.9L512.6 336.6L511.8 337.2L511.1 337.6L510.4 337.9L509.7 338.1L509.0 338.3L508.4 338.2L507.8 338.1L507.3 337.9L506.8 337.5L506.3 337.1L505.9 336.5L505.5 335.8L505.2 335.1L504.9 334.2L504.6 333.2L504.4 332.1ZM525.7 374.7L525.7 373.4L525.7 372.1L525.9 370.7L526.0 369.3L526.2 367.8L526.5 366.2L526.9 364.6L527.3 363.0L527.7 361.3L528.2 359.6L528.8 357.9L529.4 356.1L530.1 354.3L530.9 352.5L531.7 350.6L532.6 348.8L533.5 347.0L534.5 345.1L535.5 343.3L536.6 341.4L537.7 339.6L538.9 337.8L540.2 336.0L541.5 334.2L542.8 332.4L544.2 330.7L545.7 328.9L547.1 327.2L548.7 325.6L550.2 324.0L551.8 322.4L553.4 320.8L555.1 319.3L556.8 317.8L558.5 316.4L560.2 315.0L562.0 313.6L563.7 312.3L565.5 311.0L567.3 309.8L569.2 308.6L571.0 307.4L572.8 306.3L574.6 305.2L576.5 304.1L578.3 303.1L580.1 302.1L581.9 301.2L583.7 300.3L585.5 299.4L587.3 298.5L589.0 297.6L590.8 296.8L592.5 296.0L594.1 295.2L595.8 294.5L597.4 293.7L599.0 293.0L600.5 292.3L602.0 291.5L603.5 290.8L604.9 290.1L606.3 289.5L607.6 288.8L608.9 288.1L610.1 287.4L611.3 286.8L612.4 286.1L613.5 285.5L614.5 284.8L615.4 284.2L616.3 283.5L617.1 282.9L617.9 282.2L618.6 281.6L619.2 281.0L619.8 280.4L620.3 279.8L620.8 279.2L621.1 278.6L621.4 278.1L621.6 277.5L621.8 277.0L621.9 276.5L621.9 276.1L621.8 275.6L621.7 275.2L621.5 274.9L621.2 274.5L620.9 274.3L620.5 274.0L620.0 273.8L619.5 273.7L618.9 273.6L618.2 273.6L617.5 273.6L616.7 273.7L615.8 273.9L614.9 274.1L614.0 274.4L612.9 274.8L611.9 275.3L610.8 275.8L609.6 276.4L608.5 277.1L607.2 277.9L606.0 278.8L604.7 279.7L603.4 280.8L602.0 281.9L600.7 283.1L599.3 284.4L597.9 285.8L596.5 287.2L595.1 288.7L593.6 290.4L592.2 292.0L590.8 293.8L589.3 295.6L587.9 297.5L586.4 299.5L585.0 301.5L583.5 303.6L582.1 305.7L580.7 307.9L579.2 310.1L577.8 312.3L576.4 314.6L575.0 317.0L573.6 319.3L572.3 321.7L570.9 324.1L569.5 326.5L568.2 328.9L566.9 331.3L565.5 333.7L564.2 336.1L562.9 338.5L561.7 340.9L560.4 343.2L559.1 345.6L557.9 347.9L556.6 350.1L555.4 352.3L554.2 354.5L553.0 356.6L551.8 358.7L550.7 360.7L549.5 362.6L548.4 364.5L547.3 366.3L546.1 368.0L545.1 369.6L544.0 371.2L542.9 372.7L541.9 374.1L540.9 375.4L539.9 376.6L538.9 377.7L538.0 378.7L537.0 379.6L536.1 380.4L535.3 381.1L534.4 381.7L533.6 382.2L532.8 382.6L532.1 382.9L531.4 383.1L530.7 383.2L530.0 383.2L529.4 383.1L528.9 382.8L528.3 382.5L527.9 382.1L527.4 381.6L527.0 380.9L526.7 380.2L526.4 379.4L526.2 378.6L526.0 377.6L525.8 376.5L525.7 375.4ZM542.3 424.3L542.4 423.0L542.6 421.8L542.7 420.4L543.0 419.0L543.3 417.6L543.7 416.2L544.1 414.7L544.5 413.2L545.1 411.6L545.7 410.1L546.3 408.5L547.0 406.9L547.8 405.3L548.6 403.7L549.4 402.1L550.3 400.5L551.3 398.9L552.3 397.3L553.4 395.8L554.5 394.2L555.6 392.7L556.8 391.1L558.1 389.6L559.3 388.2L560.7 386.7L562.0 385.3L563.4 383.9L564.8 382.5L566.3 381.1L567.7 379.8L569.2 378.5L570.8 377.3L572.3 376.0L573.9 374.8L575.5 373.7L577.1 372.5L578.7 371.4L580.3 370.4L581.9 369.3L583.6 368.3L585.2 367.3L586.9 366.3L588.5 365.4L590.1 364.5L591.8 363.6L593.4 362.7L595.0 361.8L596.6 361.0L598.2 360.2L599.8 359.4L601.3 358.6L602.8 357.8L604.3 357.0L605.8 356.2L607.3 355.5L608.7 354.7L610.1 353.9L611.5 353.2L612.8 352.5L614.1 351.7L615.4 351.0L616.6 350.2L617.8 349.5L618.9 348.8L620.0 348.0L621.0 347.3L622.0 346.6L623.0 345.8L623.9 345.1L624.7 344.4L625.5 343.7L626.3 343.0L627.0 342.3L627.6 341.6L628.2 340.9L628.7 340.2L629.2 339.5L629.6 338.9L629.9 338.3L630.2 337.7L630.5 337.1L630.6 336.5L630.8 336.0L630.8 335.5L630.8 335.0L630.7 334.6L630.6 334.2L630.4 333.9L630.2 333.6L629.9 333.3L629.6 333.1L629.1 333.0L628.7 332.9L628.2 332.9L627.6 332.9L627.0 333.0L626.3 333.2L625.6 333.4L624.8 333.7L624.0 334.1L623.2 334.5L622.3 335.1L621.4 335.7L620.4 336.4L619.4 337.1L618.4 338.0L617.3 338.9L616.3 339.9L615.2 341.0L614.0 342.1L612.9 343.3L611.7 344.7L610.5 346.0L609.3 347.5L608.1 349.0L606.8 350.6L605.6 352.3L604.3 354.0L603.0 355.8L601.8 357.7L600.5 359.6L599.2 361.5L597.9 363.5L596.6 365.6L595.3 367.7L594.0 369.8L592.7 371.9L591.4 374.1L590.1 376.3L588.8 378.5L587.6 380.8L586.3 383.0L585.0 385.3L583.7 387.5L582.4 389.8L581.2 392.0L579.9 394.3L578.6 396.5L577.4 398.7L576.2 400.8L574.9 402.9L573.7 405.0L572.5 407.1L571.2 409.1L570.0 411.0L568.8 412.9L567.7 414.7L566.5 416.5L565.3 418.2L564.2 419.8L563.0 421.4L561.9 422.9L560.8 424.3L559.7 425.6L558.7 426.8L557.6 428.0L556.6 429.0L555.6 430.0L554.6 430.8L553.7 431.6L552.8 432.3L551.9 432.9L551.0 433.3L550.2 433.7L549.4 434.0L548.6 434.2L547.9 434.3L547.2 434.3L546.5 434.2L545.9 434.0L545.4 433.7L544.8 433.3L544.4 432.8L543.9 432.3L543.6 431.6L543.2 430.9L542.9 430.1L542.7 429.2L542.5 428.3L542.4 427.2L542.3 426.2L542.3 425.0ZM555.7 477.9L555.8 476.7L556.0 475.5L556.3 474.2L556.6 472.9L556.9 471.5L557.4 470.2L557.8 468.8L558.4 467.4L559.0 466.0L559.6 464.6L560.3 463.1L561.1 461.7L561.9 460.3L562.7 458.9L563.6 457.5L564.6 456.0L565.6 454.7L566.6 453.3L567.7 451.9L568.8 450.6L570.0 449.2L571.2 447.9L572.4 446.6L573.7 445.4L575.0 444.1L576.3 442.9L577.7 441.7L579.1 440.5L580.5 439.4L582.0 438.2L583.4 437.1L584.9 436.0L586.4 435.0L587.9 434.0L589.4 432.9L591.0 431.9L592.5 431.0L594.1 430.0L595.6 429.1L597.2 428.2L598.7 427.3L600.3 426.4L601.8 425.5L603.4 424.6L604.9 423.8L606.4 422.9L607.9 422.1L609.4 421.2L610.9 420.4L612.4 419.6L613.8 418.7L615.3 417.9L616.7 417.1L618.0 416.3L619.4 415.4L620.7 414.6L622.0 413.8L623.2 412.9L624.5 412.1L625.6 411.3L626.8 410.4L627.9 409.6L629.0 408.8L630.0 407.9L631.0 407.1L631.9 406.3L632.8 405.4L633.7 404.6L634.5 403.8L635.3 402.9L636.0 402.1L636.6 401.3L637.3 400.5L637.8 399.8L638.3 399.0L638.8 398.3L639.2 397.5L639.6 396.8L639.9 396.2L640.1 395.5L640.3 394.9L640.4 394.3L640.5 393.8L640.6 393.3L640.5 392.8L640.5 392.4L640.3 392.0L640.2 391.7L639.9 391.5L639.6 391.3L639.3 391.1L638.9 391.0L638.5 391.0L638.1 391.0L637.5 391.1L637.0 391.3L636.4 391.6L635.7 391.9L635.1 392.3L634.3 392.8L633.6 393.3L632.8 393.9L632.0 394.6L631.1 395.4L630.2 396.3L629.3 397.2L628.3 398.2L627.4 399.3L626.4 400.5L625.4 401.7L624.3 403.0L623.3 404.4L622.2 405.9L621.1 407.4L620.0 409.0L618.8 410.7L617.7 412.4L616.5 414.2L615.4 416.0L614.2 417.9L613.0 419.8L611.8 421.8L610.6 423.8L609.4 425.9L608.2 427.9L607.0 430.1L605.7 432.2L604.5 434.4L603.3 436.5L602.0 438.7L600.8 440.9L599.5 443.1L598.3 445.3L597.0 447.5L595.8 449.7L594.5 451.8L593.3 453.9L592.0 456.1L590.8 458.1L589.5 460.2L588.3 462.2L587.0 464.1L585.8 466.1L584.6 467.9L583.4 469.7L582.1 471.5L580.9 473.1L579.7 474.7L578.5 476.3L577.4 477.7L576.2 479.1L575.0 480.4L573.9 481.7L572.8 482.8L571.7 483.8L570.6 484.8L569.6 485.7L568.5 486.4L567.5 487.1L566.6 487.7L565.6 488.2L564.7 488.6L563.8 488.9L563.0 489.1L562.2 489.2L561.4 489.2L560.7 489.2L560.0 489.0L559.4 488.7L558.8 488.4L558.2 488.0L557.7 487.5L557.3 486.9L556.9 486.2L556.5 485.5L556.2 484.7L556.0 483.9L555.8 482.9L555.7 481.9L555.6 480.9L555.6 479.8L555.6 478.7ZM566.8 534.2L567.0 533.0L567.2 531.8L567.6 530.6L567.9 529.3L568.4 528.1L568.8 526.8L569.4 525.5L570.0 524.2L570.7 522.9L571.4 521.6L572.1 520.3L573.0 519.0L573.8 517.7L574.7 516.4L575.7 515.1L576.7 513.9L577.8 512.6L578.9 511.4L580.0 510.2L581.2 509.0L582.4 507.8L583.7 506.6L585.0 505.5L586.3 504.4L587.6 503.3L589.0 502.2L590.4 501.1L591.8 500.0L593.3 499.0L594.7 498.0L596.2 497.0L597.7 496.0L599.2 495.0L600.8 494.0L602.3 493.1L603.8 492.1L605.4 491.2L606.9 490.2L608.5 489.3L610.0 488.4L611.6 487.5L613.1 486.6L614.7 485.6L616.2 484.7L617.7 483.8L619.2 482.9L620.7 482.0L622.2 481.1L623.6 480.1L625.1 479.2L626.5 478.3L627.9 477.3L629.2 476.4L630.6 475.4L631.9 474.5L633.1 473.5L634.4 472.5L635.6 471.6L636.8 470.6L637.9 469.6L639.0 468.6L640.1 467.6L641.1 466.6L642.1 465.6L643.0 464.6L643.9 463.7L644.8 462.7L645.6 461.7L646.3 460.8L647.0 459.8L647.7 458.9L648.3 458.0L648.9 457.1L649.4 456.2L649.9 455.3L650.3 454.5L650.6 453.7L651.0 453.0L651.2 452.2L651.4 451.5L651.6 450.9L651.7 450.3L651.8 449.7L651.8 449.2L651.7 448.8L651.6 448.4L651.5 448.0L651.3 447.8L651.1 447.6L650.8 447.4L650.5 447.3L650.1 447.3L649.7 447.4L649.3 447.5L648.8 447.7L648.2 448.0L647.7 448.3L647.1 448.7L646.4 449.3L645.8 449.9L645.0 450.5L644.3 451.3L643.5 452.1L642.7 453.0L641.9 454.0L641.0 455.1L640.1 456.2L639.2 457.5L638.3 458.8L637.3 460.1L636.4 461.6L635.4 463.1L634.4 464.7L633.3 466.3L632.3 468.1L631.2 469.8L630.1 471.7L629.0 473.5L627.9 475.5L626.8 477.5L625.6 479.5L624.5 481.5L623.3 483.6L622.1 485.8L620.9 487.9L619.7 490.1L618.5 492.3L617.3 494.5L616.1 496.7L614.8 498.9L613.6 501.2L612.4 503.4L611.1 505.6L609.8 507.8L608.6 509.9L607.3 512.1L606.0 514.2L604.7 516.3L603.4 518.4L602.1 520.4L600.8 522.3L599.6 524.2L598.3 526.1L597.0 527.9L595.7 529.6L594.4 531.3L593.1 532.8L591.8 534.4L590.6 535.8L589.3 537.1L588.1 538.4L586.9 539.6L585.6 540.7L584.4 541.7L583.3 542.6L582.1 543.5L581.0 544.2L579.9 544.8L578.8 545.4L577.8 545.8L576.8 546.2L575.8 546.4L574.9 546.6L574.0 546.6L573.1 546.6L572.3 546.5L571.6 546.3L570.9 546.0L570.2 545.7L569.6 545.2L569.0 544.7L568.5 544.1L568.1 543.5L567.7 542.7L567.4 541.9L567.1 541.1L566.9 540.2L566.7 539.2L566.6 538.2L566.6 537.1L566.6 536.0L566.7 534.9Z" fill="none" stroke="#1a1af0" stroke-width="1.8" clip-path="url(#ter)"/>
<path d="M244.7 465.7L245.6 461.7L246.4 457.7L247.3 453.7L248.1 449.6L249.0 445.6L249.8 441.6L250.7 437.6L251.5 433.6L252.4 429.6L253.3 425.6L254.1 421.6L255.0 417.5L255.9 413.5L256.8 409.5L257.7 405.5L258.6 401.5L259.5 397.6L260.4 393.6L261.3 389.6L262.2 385.6L263.2 381.6L264.1 377.7L265.1 373.7L266.0 369.8L267.0 365.8L268.0 361.9L269.0 357.9L270.0 354.0L271.0 350.1L272.1 346.2L273.1 342.2L274.2 338.4L275.3 334.5L276.4 330.6L277.6 326.7L278.7 322.9L279.9 319.0L281.1 315.2L282.3 311.4L283.5 307.6L284.8 303.8L286.1 300.0L287.4 296.3L288.8 292.5L290.2 288.8L291.6 285.1L293.1 281.4L294.6 277.7L296.1 274.1L297.6 270.5L299.3 266.9L300.9 263.3L302.6 259.8L304.4 256.3L306.2 252.8L308.0 249.4L309.9 245.9L311.9 242.6L313.9 239.2L316.0 235.9L318.2 232.7L320.4 229.5L322.7 226.3L325.1 223.2L327.5 220.2L330.1 217.2L332.7 214.3L335.4 211.4L338.2 208.6L341.1 205.9L344.1 203.3L347.2 200.7L350.4 198.2L353.7 195.8L357.1 193.6L360.7 191.4L364.3 189.3L368.0 187.3L371.8 185.5L375.8 183.8L379.8 182.2L383.9 180.7L388.2 179.4L392.5 178.2L396.9 177.2L401.3 176.3L405.8 175.6L410.4 175.0L415.0 174.6L419.6 174.4L424.2 174.3L428.8 174.4L433.4 174.6L438.0 175.0L442.6 175.6L447.1 176.3L451.5 177.2L455.9 178.2L460.2 179.4L464.5 180.7L468.6 182.2L472.6 183.8L476.6 185.5L480.4 187.3L484.1 189.3L487.7 191.4L491.3 193.6L494.7 195.8L498.0 198.2L501.2 200.7L504.3 203.3L507.3 205.9L510.2 208.6L513.0 211.4L515.7 214.3L518.3 217.2L520.9 220.2L523.3 223.2L525.7 226.3L528.0 229.5L530.2 232.7L532.4 235.9L534.5 239.2L536.5 242.6L538.5 245.9L540.4 249.4L542.2 252.8L544.0 256.3L545.8 259.8L547.5 263.3L549.1 266.9L550.8 270.5L552.3 274.1L553.8 277.7L555.3 281.4L556.8 285.1L558.2 288.8L559.6 292.5L561.0 296.3L562.3 300.0L563.6 303.8L564.9 307.6L566.1 311.4L567.3 315.2L568.5 319.0L569.7 322.9L570.8 326.7L572.0 330.6L573.1 334.5L574.2 338.4L575.3 342.2L576.3 346.2L577.4 350.1L578.4 354.0L579.4 357.9L580.4 361.9L581.4 365.8L582.4 369.8L583.3 373.7L584.3 377.7L585.2 381.6L586.2 385.6L587.1 389.6L588.0 393.6L588.9 397.6L589.8 401.5L590.7 405.5L591.6 409.5L592.5 413.5L593.4 417.5L594.3 421.6L595.1 425.6L596.0 429.6L596.9 433.6L597.7 437.6L598.6 441.6L599.4 445.6L600.3 449.6L601.1 453.7L602.0 457.7L602.9 461.7L603.7 465.7" fill="none" stroke="#111" stroke-width="1.25" clip-path="url(#ter)"/>
<g clip-path="url(#ter)">
<path d="M0 0L-12.9 -3.2L-11.2 0L-12.9 3.2Z" fill="#1a1af0" stroke="#1a1af0" stroke-width="0.9" transform="translate(265.6 456.2) rotate(-126.2)"/>
</g>
<g clip-path="url(#sky)"><path d="M192.7 465.8L193.6 462.2L194.4 458.6L195.3 454.9L196.1 451.3L196.9 447.6L197.7 444.0L198.5 440.3L199.3 436.6L200.1 432.9L200.8 429.2L201.6 425.5L202.3 421.8L203.1 418.0L203.8 414.3L204.5 410.5L205.3 406.8L206.0 403.0L206.7 399.2L207.4 395.4L208.1 391.6L208.8 387.8L209.4 384.0L210.1 380.2L210.8 376.4L211.4 372.5L212.1 368.7L212.7 364.8L213.4 361.0L214.0 357.1L214.7 353.2L215.3 349.4L215.9 345.5L216.5 341.6L217.1 337.7L217.8 333.8L218.4 329.9L219.0 326.0L219.6 322.1L220.2 318.2L220.8 314.3L221.4 310.3L222.0 306.4L222.6 302.5L223.2 298.5L223.7 294.6L224.3 290.6L224.9 286.7L225.5 282.7L226.1 278.8L226.7 274.8L227.3 270.8L227.8 266.9L228.4 262.9L229.0 258.9L229.6 254.9L230.2 251.0L230.8 247.0L231.4 243.0L232.0 239.0L232.6 235.0L233.2 231.0L233.8 227.0L234.4 223.0L235.0 219.0L235.6 215.0L236.2 211.0L236.9 207.0L237.5 203.0L238.2 199.0L238.8 195.0L239.5 191.0L240.2 187.0L240.9 182.9L241.6 178.9L242.3 174.9L243.1 170.9L243.9 166.9L244.7 162.9L245.5 158.8L246.4 154.8L247.3 150.8L248.2 146.8L249.2 142.8L250.3 138.8L251.4 134.7L252.6 130.7L253.9 126.7L255.3 122.7L256.9 118.7L258.6 114.7L260.5 110.7L262.7 106.7L265.3 102.8L268.2 98.8L271.8 94.9L276.2 91.0L281.9 87.2L289.3 83.4L299.5 79.7L314.5 76.3L337.6 73.2L373.9 70.9L424.2 70.0L474.5 70.9L510.8 73.2L533.9 76.3L548.9 79.7L559.1 83.4L566.5 87.2L572.2 91.0L576.6 94.9L580.2 98.8L583.1 102.8L585.7 106.7L587.9 110.7L589.8 114.7L591.5 118.7L593.1 122.7L594.5 126.7L595.8 130.7L597.0 134.7L598.1 138.8L599.2 142.8L600.2 146.8L601.1 150.8L602.0 154.8L602.9 158.8L603.7 162.9L604.5 166.9L605.3 170.9L606.1 174.9L606.8 178.9L607.5 182.9L608.2 187.0L608.9 191.0L609.6 195.0L610.2 199.0L610.9 203.0L611.5 207.0L612.2 211.0L612.8 215.0L613.4 219.0L614.0 223.0L614.6 227.0L615.2 231.0L615.8 235.0L616.4 239.0L617.0 243.0L617.6 247.0L618.2 251.0L618.8 254.9L619.4 258.9L620.0 262.9L620.6 266.9L621.1 270.8L621.7 274.8L622.3 278.8L622.9 282.7L623.5 286.7L624.1 290.6L624.7 294.6L625.2 298.5L625.8 302.5L626.4 306.4L627.0 310.3L627.6 314.3L628.2 318.2L628.8 322.1L629.4 326.0L630.0 329.9L630.6 333.8L631.3 337.7L631.9 341.6L632.5 345.5L633.1 349.4L633.7 353.2L634.4 357.1L635.0 361.0L635.7 364.8L636.3 368.7L637.0 372.5L637.6 376.4L638.3 380.2L639.0 384.0L639.6 387.8L640.3 391.6L641.0 395.4L641.7 399.2L642.4 403.0L643.1 406.8L643.9 410.5L644.6 414.3L645.3 418.0L646.1 421.8L646.8 425.5L647.6 429.2L648.3 432.9L649.1 436.6L649.9 440.3L650.7 444.0L651.5 447.6L652.3 451.3L653.1 454.9L654.0 458.6L654.8 462.2L655.7 465.8L551.7 464.8L550.9 461.2L550.0 457.6L549.2 454.0L548.3 450.5L547.4 446.9L546.5 443.4L545.6 439.8L544.6 436.3L543.7 432.8L542.7 429.4L541.8 425.9L540.8 422.5L539.8 419.0L538.7 415.6L537.7 412.2L536.7 408.9L535.6 405.5L534.5 402.2L533.4 398.9L532.3 395.6L531.2 392.4L530.0 389.1L528.8 385.9L527.6 382.7L526.4 379.6L525.2 376.4L523.9 373.3L522.7 370.3L521.4 367.2L520.0 364.2L518.7 361.2L517.3 358.3L515.9 355.3L514.5 352.5L513.1 349.6L511.6 346.8L510.1 344.0L508.6 341.3L507.1 338.6L505.5 335.9L503.9 333.3L502.3 330.8L500.7 328.2L499.0 325.7L497.3 323.3L495.5 320.9L493.8 318.6L492.0 316.3L490.2 314.1L488.3 311.9L486.5 309.8L484.6 307.7L482.6 305.7L480.7 303.8L478.7 301.9L476.7 300.1L474.6 298.3L472.5 296.6L470.4 295.0L468.3 293.4L466.2 292.0L464.0 290.6L461.8 289.2L459.5 287.9L457.3 286.8L455.0 285.6L452.7 284.6L450.4 283.6L448.1 282.8L445.8 282.0L443.4 281.3L441.0 280.6L438.7 280.1L436.3 279.6L433.9 279.2L431.5 278.9L429.0 278.7L426.6 278.6L424.2 278.5L421.8 278.6L419.4 278.7L416.9 278.9L414.5 279.2L412.1 279.6L409.7 280.1L407.4 280.6L405.0 281.3L402.6 282.0L400.3 282.8L398.0 283.6L395.7 284.6L393.4 285.6L391.1 286.8L388.9 287.9L386.6 289.2L384.4 290.6L382.2 292.0L380.1 293.4L378.0 295.0L375.9 296.6L373.8 298.3L371.7 300.1L369.7 301.9L367.7 303.8L365.8 305.7L363.8 307.7L361.9 309.8L360.1 311.9L358.2 314.1L356.4 316.3L354.6 318.6L352.9 320.9L351.1 323.3L349.4 325.7L347.7 328.2L346.1 330.8L344.5 333.3L342.9 335.9L341.3 338.6L339.8 341.3L338.3 344.0L336.8 346.8L335.3 349.6L333.9 352.5L332.5 355.3L331.1 358.3L329.7 361.2L328.4 364.2L327.0 367.2L325.7 370.3L324.5 373.3L323.2 376.4L322.0 379.6L320.8 382.7L319.6 385.9L318.4 389.1L317.2 392.4L316.1 395.6L315.0 398.9L313.9 402.2L312.8 405.5L311.7 408.9L310.7 412.2L309.7 415.6L308.6 419.0L307.6 422.5L306.6 425.9L305.7 429.4L304.7 432.8L303.8 436.3L302.8 439.8L301.9 443.4L301.0 446.9L300.1 450.5L299.2 454.0L298.4 457.6L297.5 461.2L296.7 464.8Z" fill="#ffd700" fill-opacity="0.35"/>
<clipPath id="aa"><path d="M192.7 465.8L193.6 462.2L194.4 458.6L195.3 454.9L196.1 451.3L196.9 447.6L197.7 444.0L198.5 440.3L199.3 436.6L200.1 432.9L200.8 429.2L201.6 425.5L202.3 421.8L203.1 418.0L203.8 414.3L204.5 410.5L205.3 406.8L206.0 403.0L206.7 399.2L207.4 395.4L208.1 391.6L208.8 387.8L209.4 384.0L210.1 380.2L210.8 376.4L211.4 372.5L212.1 368.7L212.7 364.8L213.4 361.0L214.0 357.1L214.7 353.2L215.3 349.4L215.9 345.5L216.5 341.6L217.1 337.7L217.8 333.8L218.4 329.9L219.0 326.0L219.6 322.1L220.2 318.2L220.8 314.3L221.4 310.3L222.0 306.4L222.6 302.5L223.2 298.5L223.7 294.6L224.3 290.6L224.9 286.7L225.5 282.7L226.1 278.8L226.7 274.8L227.3 270.8L227.8 266.9L228.4 262.9L229.0 258.9L229.6 254.9L230.2 251.0L230.8 247.0L231.4 243.0L232.0 239.0L232.6 235.0L233.2 231.0L233.8 227.0L234.4 223.0L235.0 219.0L235.6 215.0L236.2 211.0L236.9 207.0L237.5 203.0L238.2 199.0L238.8 195.0L239.5 191.0L240.2 187.0L240.9 182.9L241.6 178.9L242.3 174.9L243.1 170.9L243.9 166.9L244.7 162.9L245.5 158.8L246.4 154.8L247.3 150.8L248.2 146.8L249.2 142.8L250.3 138.8L251.4 134.7L252.6 130.7L253.9 126.7L255.3 122.7L256.9 118.7L258.6 114.7L260.5 110.7L262.7 106.7L265.3 102.8L268.2 98.8L271.8 94.9L276.2 91.0L281.9 87.2L289.3 83.4L299.5 79.7L314.5 76.3L337.6 73.2L373.9 70.9L424.2 70.0L474.5 70.9L510.8 73.2L533.9 76.3L548.9 79.7L559.1 83.4L566.5 87.2L572.2 91.0L576.6 94.9L580.2 98.8L583.1 102.8L585.7 106.7L587.9 110.7L589.8 114.7L591.5 118.7L593.1 122.7L594.5 126.7L595.8 130.7L597.0 134.7L598.1 138.8L599.2 142.8L600.2 146.8L601.1 150.8L602.0 154.8L602.9 158.8L603.7 162.9L604.5 166.9L605.3 170.9L606.1 174.9L606.8 178.9L607.5 182.9L608.2 187.0L608.9 191.0L609.6 195.0L610.2 199.0L610.9 203.0L611.5 207.0L612.2 211.0L612.8 215.0L613.4 219.0L614.0 223.0L614.6 227.0L615.2 231.0L615.8 235.0L616.4 239.0L617.0 243.0L617.6 247.0L618.2 251.0L618.8 254.9L619.4 258.9L620.0 262.9L620.6 266.9L621.1 270.8L621.7 274.8L622.3 278.8L622.9 282.7L623.5 286.7L624.1 290.6L624.7 294.6L625.2 298.5L625.8 302.5L626.4 306.4L627.0 310.3L627.6 314.3L628.2 318.2L628.8 322.1L629.4 326.0L630.0 329.9L630.6 333.8L631.3 337.7L631.9 341.6L632.5 345.5L633.1 349.4L633.7 353.2L634.4 357.1L635.0 361.0L635.7 364.8L636.3 368.7L637.0 372.5L637.6 376.4L638.3 380.2L639.0 384.0L639.6 387.8L640.3 391.6L641.0 395.4L641.7 399.2L642.4 403.0L643.1 406.8L643.9 410.5L644.6 414.3L645.3 418.0L646.1 421.8L646.8 425.5L647.6 429.2L648.3 432.9L649.1 436.6L649.9 440.3L650.7 444.0L651.5 447.6L652.3 451.3L653.1 454.9L654.0 458.6L654.8 462.2L655.7 465.8L551.7 464.8L550.9 461.2L550.0 457.6L549.2 454.0L548.3 450.5L547.4 446.9L546.5 443.4L545.6 439.8L544.6 436.3L543.7 432.8L542.7 429.4L541.8 425.9L540.8 422.5L539.8 419.0L538.7 415.6L537.7 412.2L536.7 408.9L535.6 405.5L534.5 402.2L533.4 398.9L532.3 395.6L531.2 392.4L530.0 389.1L528.8 385.9L527.6 382.7L526.4 379.6L525.2 376.4L523.9 373.3L522.7 370.3L521.4 367.2L520.0 364.2L518.7 361.2L517.3 358.3L515.9 355.3L514.5 352.5L513.1 349.6L511.6 346.8L510.1 344.0L508.6 341.3L507.1 338.6L505.5 335.9L503.9 333.3L502.3 330.8L500.7 328.2L499.0 325.7L497.3 323.3L495.5 320.9L493.8 318.6L492.0 316.3L490.2 314.1L488.3 311.9L486.5 309.8L484.6 307.7L482.6 305.7L480.7 303.8L478.7 301.9L476.7 300.1L474.6 298.3L472.5 296.6L470.4 295.0L468.3 293.4L466.2 292.0L464.0 290.6L461.8 289.2L459.5 287.9L457.3 286.8L455.0 285.6L452.7 284.6L450.4 283.6L448.1 282.8L445.8 282.0L443.4 281.3L441.0 280.6L438.7 280.1L436.3 279.6L433.9 279.2L431.5 278.9L429.0 278.7L426.6 278.6L424.2 278.5L421.8 278.6L419.4 278.7L416.9 278.9L414.5 279.2L412.1 279.6L409.7 280.1L407.4 280.6L405.0 281.3L402.6 282.0L400.3 282.8L398.0 283.6L395.7 284.6L393.4 285.6L391.1 286.8L388.9 287.9L386.6 289.2L384.4 290.6L382.2 292.0L380.1 293.4L378.0 295.0L375.9 296.6L373.8 298.3L371.7 300.1L369.7 301.9L367.7 303.8L365.8 305.7L363.8 307.7L361.9 309.8L360.1 311.9L358.2 314.1L356.4 316.3L354.6 318.6L352.9 320.9L351.1 323.3L349.4 325.7L347.7 328.2L346.1 330.8L344.5 333.3L342.9 335.9L341.3 338.6L339.8 341.3L338.3 344.0L336.8 346.8L335.3 349.6L333.9 352.5L332.5 355.3L331.1 358.3L329.7 361.2L328.4 364.2L327.0 367.2L325.7 370.3L324.5 373.3L323.2 376.4L322.0 379.6L320.8 382.7L319.6 385.9L318.4 389.1L317.2 392.4L316.1 395.6L315.0 398.9L313.9 402.2L312.8 405.5L311.7 408.9L310.7 412.2L309.7 415.6L308.6 419.0L307.6 422.5L306.6 425.9L305.7 429.4L304.7 432.8L303.8 436.3L302.8 439.8L301.9 443.4L301.0 446.9L300.1 450.5L299.2 454.0L298.4 457.6L297.5 461.2L296.7 464.8Z"/></clipPath>
<path d="M66.9 395.0H781.5M66.9 328.3H781.5M66.9 261.5H781.5M66.9 194.8H781.5M66.9 128.1H781.5" stroke="#e9da90" stroke-width="1.3" clip-path="url(#aa)"/>
<path d="M282.2 531.5L281.7 532.1L281.1 532.7L280.5 533.2L279.9 533.5L279.2 533.9L278.4 534.1L277.6 534.2L276.8 534.3L275.9 534.3L274.9 534.1L274.0 533.9L273.0 533.6L271.9 533.2L270.9 532.7L269.8 532.2L268.6 531.5L267.5 530.7L266.3 529.9L265.1 528.9L263.9 527.9L262.6 526.8L261.4 525.6L260.1 524.3L258.8 522.9L257.5 521.5L256.2 519.9L254.9 518.3L253.6 516.7L252.3 515.0L251.0 513.2L249.6 511.4L248.3 509.5L247.0 507.6L245.7 505.6L244.3 503.6L243.0 501.6L241.7 499.5L240.4 497.4L239.1 495.3L237.8 493.2L236.5 491.1L235.2 489.0L234.0 486.8L232.7 484.7L231.4 482.6L230.2 480.5L228.9 478.5L227.7 476.4L226.5 474.4L225.3 472.4L224.1 470.5L222.9 468.6L221.7 466.7L220.6 464.9L219.4 463.1L218.3 461.4L217.2 459.8L216.1 458.2L215.1 456.7L214.0 455.2L213.0 453.8L212.0 452.5L211.0 451.3L210.1 450.1L209.2 449.0L208.3 448.0L207.4 447.0L206.5 446.2L205.7 445.4L205.0 444.7L204.2 444.0L203.5 443.5L202.8 443.0L202.2 442.6L201.6 442.3L201.0 442.0L200.5 441.8L200.1 441.7L199.6 441.7L199.2 441.7L198.9 441.8L198.6 441.9L198.4 442.2L198.2 442.4L198.0 442.8L197.9 443.1L197.9 443.6L197.9 444.1L197.9 444.6L198.0 445.2L198.2 445.8L198.4 446.4L198.6 447.1L198.9 447.8L199.3 448.6L199.7 449.3L200.1 450.1L200.7 450.9L201.2 451.7L201.8 452.6L202.5 453.4L203.2 454.3L203.9 455.2L204.7 456.1L205.6 456.9L206.5 457.8L207.4 458.7L208.4 459.6L209.4 460.5L210.4 461.3L211.5 462.2L212.7 463.1L213.8 463.9L215.0 464.8L216.3 465.6L217.6 466.5L218.9 467.3L220.2 468.1L221.5 468.9L222.9 469.7L224.3 470.5L225.7 471.3L227.2 472.1L228.7 472.9L230.1 473.6L231.6 474.4L233.1 475.2L234.7 475.9L236.2 476.7L237.7 477.5L239.3 478.3L240.8 479.0L242.4 479.8L243.9 480.6L245.5 481.4L247.0 482.2L248.5 483.0L250.1 483.8L251.6 484.7L253.1 485.5L254.6 486.4L256.1 487.3L257.5 488.2L259.0 489.2L260.4 490.1L261.8 491.1L263.1 492.1L264.5 493.1L265.8 494.1L267.1 495.2L268.3 496.2L269.5 497.3L270.7 498.5L271.8 499.6L272.9 500.8L274.0 501.9L275.0 503.1L275.9 504.3L276.8 505.6L277.7 506.8L278.5 508.0L279.3 509.3L280.0 510.5L280.6 511.8L281.2 513.1L281.8 514.3L282.3 515.6L282.7 516.8L283.1 518.0L283.4 519.2L283.6 520.4L283.8 521.6L284.0 522.7L284.0 523.8L284.1 524.9L284.0 525.9L283.9 526.9L283.7 527.9L283.5 528.8L283.2 529.6L282.9 530.4L282.5 531.1ZM293.4 475.4L292.9 475.9L292.3 476.3L291.7 476.7L291.1 476.9L290.4 477.1L289.7 477.2L288.9 477.2L288.1 477.2L287.2 477.0L286.3 476.7L285.4 476.3L284.4 475.9L283.5 475.3L282.4 474.7L281.4 474.0L280.3 473.1L279.2 472.2L278.1 471.2L277.0 470.1L275.8 469.0L274.7 467.7L273.5 466.4L272.3 465.0L271.0 463.5L269.8 461.9L268.6 460.3L267.3 458.6L266.1 456.9L264.8 455.1L263.5 453.2L262.2 451.3L261.0 449.4L259.7 447.4L258.4 445.4L257.1 443.4L255.8 441.3L254.5 439.2L253.2 437.1L251.9 435.0L250.6 432.9L249.3 430.8L248.0 428.7L246.7 426.6L245.4 424.5L244.2 422.5L242.9 420.4L241.6 418.4L240.3 416.4L239.1 414.5L237.8 412.6L236.6 410.7L235.4 408.9L234.1 407.1L232.9 405.4L231.7 403.8L230.5 402.2L229.4 400.6L228.2 399.2L227.1 397.8L226.0 396.4L224.9 395.2L223.8 394.0L222.8 392.9L221.8 391.8L220.8 390.9L219.8 390.0L218.9 389.2L218.0 388.4L217.1 387.8L216.3 387.2L215.5 386.7L214.7 386.2L214.0 385.9L213.3 385.6L212.7 385.4L212.1 385.2L211.6 385.1L211.1 385.1L210.6 385.1L210.2 385.2L209.9 385.4L209.6 385.6L209.3 385.9L209.1 386.2L209.0 386.6L208.9 387.0L208.9 387.4L208.9 387.9L209.0 388.4L209.1 389.0L209.3 389.5L209.5 390.1L209.8 390.8L210.2 391.4L210.6 392.1L211.0 392.8L211.5 393.5L212.1 394.2L212.7 394.9L213.3 395.7L214.1 396.4L214.8 397.1L215.6 397.9L216.5 398.6L217.4 399.4L218.3 400.1L219.3 400.8L220.3 401.6L221.4 402.3L222.5 403.0L223.6 403.8L224.8 404.5L226.0 405.2L227.3 405.9L228.6 406.6L229.9 407.3L231.2 408.0L232.6 408.7L234.0 409.4L235.4 410.1L236.9 410.8L238.3 411.5L239.8 412.2L241.3 412.9L242.8 413.6L244.4 414.3L245.9 415.0L247.5 415.8L249.0 416.5L250.6 417.3L252.1 418.0L253.7 418.8L255.3 419.6L256.8 420.4L258.4 421.3L259.9 422.1L261.5 423.0L263.0 423.9L264.5 424.8L266.0 425.8L267.5 426.7L269.0 427.7L270.4 428.8L271.9 429.8L273.3 430.9L274.6 432.0L276.0 433.2L277.3 434.3L278.6 435.5L279.8 436.7L281.0 438.0L282.2 439.2L283.3 440.5L284.4 441.8L285.4 443.1L286.4 444.5L287.4 445.8L288.3 447.2L289.1 448.5L290.0 449.9L290.7 451.3L291.4 452.7L292.1 454.1L292.7 455.4L293.2 456.8L293.7 458.2L294.1 459.5L294.5 460.8L294.8 462.1L295.0 463.4L295.2 464.6L295.4 465.8L295.5 467.0L295.5 468.1L295.4 469.1L295.4 470.2L295.2 471.1L295.0 472.0L294.7 472.9L294.4 473.7L294.1 474.4L293.7 475.0ZM306.8 421.9L306.3 422.3L305.7 422.6L305.1 422.8L304.4 422.9L303.7 422.9L303.0 422.8L302.2 422.7L301.4 422.4L300.6 422.0L299.7 421.6L298.8 421.0L297.8 420.4L296.8 419.6L295.8 418.8L294.8 417.8L293.8 416.8L292.7 415.7L291.6 414.5L290.5 413.2L289.4 411.8L288.2 410.4L287.0 408.9L285.9 407.3L284.7 405.6L283.4 403.9L282.2 402.1L281.0 400.2L279.7 398.3L278.5 396.4L277.2 394.4L275.9 392.3L274.6 390.2L273.3 388.1L272.0 386.0L270.7 383.9L269.4 381.7L268.1 379.5L266.7 377.3L265.4 375.1L264.1 373.0L262.7 370.8L261.4 368.6L260.0 366.5L258.6 364.3L257.3 362.2L255.9 360.2L254.6 358.1L253.2 356.2L251.9 354.2L250.5 352.3L249.2 350.5L247.8 348.7L246.5 346.9L245.2 345.2L243.9 343.6L242.6 342.1L241.3 340.6L240.0 339.2L238.7 337.9L237.5 336.6L236.3 335.4L235.1 334.3L233.9 333.3L232.8 332.3L231.7 331.5L230.6 330.7L229.5 330.0L228.5 329.3L227.6 328.7L226.6 328.3L225.7 327.8L224.9 327.5L224.1 327.2L223.3 327.0L222.6 326.9L222.0 326.8L221.4 326.8L220.8 326.9L220.3 327.0L219.9 327.1L219.5 327.3L219.2 327.6L218.9 327.9L218.7 328.2L218.6 328.6L218.5 329.0L218.5 329.5L218.5 330.0L218.6 330.5L218.8 331.0L219.0 331.6L219.3 332.1L219.7 332.7L220.1 333.3L220.5 333.9L221.0 334.5L221.6 335.2L222.2 335.8L222.9 336.5L223.7 337.1L224.5 337.7L225.3 338.4L226.2 339.0L227.2 339.7L228.2 340.3L229.2 341.0L230.3 341.6L231.5 342.2L232.6 342.9L233.9 343.5L235.1 344.1L236.4 344.8L237.8 345.4L239.1 346.0L240.5 346.7L242.0 347.3L243.4 347.9L244.9 348.6L246.4 349.2L248.0 349.9L249.6 350.6L251.1 351.3L252.7 352.0L254.4 352.7L256.0 353.4L257.6 354.1L259.3 354.9L260.9 355.7L262.6 356.5L264.3 357.3L265.9 358.2L267.6 359.1L269.3 360.0L270.9 361.0L272.6 361.9L274.2 362.9L275.8 364.0L277.4 365.1L279.0 366.2L280.6 367.3L282.1 368.5L283.7 369.7L285.2 370.9L286.6 372.2L288.1 373.5L289.5 374.8L290.8 376.2L292.2 377.6L293.4 379.0L294.7 380.5L295.9 381.9L297.1 383.4L298.2 384.9L299.3 386.5L300.3 388.0L301.2 389.5L302.2 391.1L303.0 392.7L303.9 394.2L304.6 395.8L305.3 397.3L306.0 398.9L306.6 400.4L307.1 401.9L307.6 403.4L308.0 404.9L308.4 406.3L308.7 407.7L308.9 409.1L309.1 410.4L309.3 411.6L309.3 412.9L309.4 414.0L309.3 415.2L309.2 416.2L309.1 417.2L308.9 418.1L308.6 419.0L308.3 419.7L308.0 420.4L307.6 421.1L307.1 421.6ZM323.6 372.5L323.1 372.7L322.4 372.8L321.8 372.9L321.1 372.8L320.4 372.6L319.6 372.3L318.8 371.9L318.0 371.4L317.1 370.8L316.2 370.1L315.3 369.3L314.3 368.4L313.3 367.4L312.3 366.2L311.3 365.0L310.3 363.8L309.2 362.4L308.1 360.9L307.0 359.3L305.9 357.7L304.7 356.0L303.6 354.2L302.4 352.3L301.2 350.4L300.0 348.4L298.7 346.4L297.5 344.3L296.2 342.1L294.9 339.9L293.6 337.7L292.3 335.4L291.0 333.1L289.7 330.8L288.3 328.5L287.0 326.1L285.6 323.7L284.2 321.4L282.8 319.0L281.4 316.6L280.0 314.3L278.5 311.9L277.1 309.6L275.6 307.3L274.1 305.0L272.6 302.8L271.1 300.6L269.6 298.5L268.1 296.4L266.6 294.3L265.1 292.4L263.5 290.4L262.0 288.6L260.5 286.8L259.0 285.1L257.4 283.4L255.9 281.8L254.4 280.3L252.9 278.9L251.5 277.6L250.0 276.3L248.5 275.2L247.1 274.1L245.7 273.1L244.4 272.2L243.0 271.3L241.8 270.6L240.5 269.9L239.3 269.4L238.1 268.9L237.0 268.4L235.9 268.1L234.9 267.8L233.9 267.6L233.0 267.5L232.2 267.4L231.4 267.4L230.7 267.4L230.1 267.5L229.5 267.7L229.0 267.9L228.5 268.2L228.2 268.4L227.9 268.8L227.6 269.1L227.5 269.5L227.4 270.0L227.4 270.4L227.5 270.9L227.6 271.4L227.8 271.9L228.1 272.4L228.5 273.0L228.9 273.5L229.4 274.1L229.9 274.6L230.6 275.2L231.3 275.8L232.0 276.3L232.9 276.9L233.8 277.5L234.7 278.1L235.7 278.7L236.8 279.2L237.9 279.8L239.1 280.4L240.4 281.0L241.7 281.6L243.0 282.2L244.4 282.7L245.8 283.3L247.3 283.9L248.8 284.5L250.4 285.2L252.0 285.8L253.6 286.4L255.3 287.1L257.0 287.8L258.7 288.4L260.5 289.1L262.3 289.9L264.1 290.6L265.9 291.4L267.7 292.2L269.6 293.1L271.4 293.9L273.3 294.8L275.2 295.8L277.1 296.7L278.9 297.7L280.8 298.8L282.7 299.9L284.5 301.0L286.4 302.2L288.2 303.4L290.0 304.6L291.8 305.9L293.6 307.3L295.4 308.6L297.1 310.1L298.8 311.5L300.4 313.0L302.0 314.6L303.6 316.1L305.2 317.7L306.7 319.4L308.1 321.0L309.6 322.7L310.9 324.5L312.2 326.2L313.5 328.0L314.7 329.8L315.9 331.6L317.0 333.4L318.0 335.2L319.0 337.0L320.0 338.8L320.9 340.7L321.7 342.5L322.4 344.2L323.1 346.0L323.8 347.8L324.4 349.5L324.9 351.2L325.3 352.9L325.7 354.5L326.1 356.1L326.4 357.6L326.6 359.1L326.8 360.5L326.9 361.9L326.9 363.2L326.9 364.4L326.8 365.6L326.7 366.7L326.6 367.7L326.3 368.6L326.1 369.5L325.7 370.2L325.4 370.9L325.0 371.5L324.5 371.9L324.0 372.3ZM345.3 329.6L344.6 329.6L344.0 329.5L343.3 329.3L342.5 328.9L341.8 328.5L341.0 327.9L340.2 327.2L339.3 326.4L338.4 325.5L337.5 324.4L336.6 323.3L335.7 322.1L334.7 320.7L333.7 319.3L332.7 317.8L331.7 316.1L330.6 314.4L329.6 312.6L328.5 310.7L327.4 308.7L326.3 306.6L325.1 304.5L324.0 302.3L322.8 300.0L321.6 297.7L320.4 295.3L319.2 292.8L317.9 290.3L316.7 287.8L315.4 285.2L314.1 282.6L312.8 280.0L311.4 277.3L310.1 274.6L308.7 272.0L307.2 269.3L305.8 266.6L304.3 263.9L302.8 261.2L301.3 258.6L299.8 255.9L298.2 253.3L296.6 250.7L295.0 248.2L293.3 245.7L291.6 243.2L289.9 240.8L288.2 238.5L286.4 236.2L284.7 234.0L282.9 231.9L281.0 229.8L279.2 227.8L277.3 225.9L275.5 224.1L273.6 222.4L271.7 220.8L269.9 219.2L268.0 217.8L266.1 216.4L264.3 215.2L262.4 214.0L260.6 213.0L258.8 212.0L257.1 211.1L255.4 210.4L253.7 209.7L252.1 209.1L250.6 208.6L249.1 208.2L247.6 207.9L246.3 207.6L245.0 207.4L243.8 207.3L242.7 207.3L241.6 207.3L240.7 207.4L239.8 207.5L239.1 207.7L238.4 208.0L237.8 208.3L237.3 208.6L237.0 208.9L236.7 209.3L236.5 209.7L236.4 210.1L236.4 210.6L236.5 211.1L236.7 211.5L237.0 212.0L237.4 212.6L237.9 213.1L238.5 213.6L239.1 214.1L239.9 214.6L240.7 215.2L241.7 215.7L242.7 216.3L243.8 216.8L245.0 217.4L246.2 217.9L247.6 218.5L249.0 219.0L250.4 219.6L252.0 220.2L253.6 220.8L255.2 221.4L257.0 222.0L258.8 222.6L260.6 223.2L262.5 223.9L264.5 224.6L266.4 225.3L268.5 226.0L270.5 226.8L272.7 227.6L274.8 228.5L277.0 229.3L279.1 230.3L281.3 231.2L283.6 232.2L285.8 233.3L288.1 234.4L290.3 235.5L292.6 236.7L294.8 237.9L297.0 239.2L299.3 240.6L301.5 242.0L303.7 243.5L305.8 245.0L308.0 246.6L310.1 248.2L312.2 249.9L314.2 251.6L316.2 253.4L318.2 255.2L320.1 257.1L322.0 259.0L323.8 260.9L325.5 262.9L327.2 265.0L328.9 267.0L330.5 269.1L332.0 271.3L333.5 273.4L334.9 275.6L336.3 277.7L337.5 279.9L338.8 282.1L339.9 284.3L341.0 286.5L342.0 288.7L343.0 290.9L343.9 293.0L344.7 295.2L345.5 297.3L346.2 299.4L346.8 301.4L347.4 303.5L347.9 305.4L348.3 307.3L348.7 309.2L349.0 311.0L349.3 312.8L349.5 314.5L349.7 316.1L349.7 317.6L349.8 319.1L349.7 320.5L349.7 321.8L349.5 323.0L349.4 324.1L349.1 325.1L348.8 326.0L348.5 326.9L348.1 327.6L347.7 328.2L347.3 328.7L346.8 329.1L346.2 329.4L345.7 329.6ZM373.1 296.8L372.4 296.5L371.7 296.1L371.0 295.6L370.2 294.9L369.5 294.1L368.7 293.2L367.9 292.1L367.1 291.0L366.3 289.7L365.5 288.3L364.6 286.8L363.8 285.2L362.9 283.4L362.0 281.6L361.2 279.7L360.3 277.6L359.3 275.5L358.4 273.3L357.5 271.0L356.6 268.6L355.6 266.1L354.6 263.5L353.7 260.9L352.7 258.2L351.7 255.5L350.7 252.6L349.6 249.8L348.6 246.8L347.5 243.9L346.4 240.9L345.3 237.8L344.2 234.7L343.0 231.6L341.8 228.5L340.6 225.4L339.4 222.2L338.1 219.1L336.8 216.0L335.4 212.8L334.0 209.7L332.6 206.6L331.1 203.5L329.5 200.5L327.9 197.4L326.3 194.5L324.6 191.6L322.8 188.7L320.9 185.9L319.0 183.1L317.1 180.4L315.0 177.9L312.9 175.3L310.7 172.9L308.5 170.6L306.2 168.3L303.8 166.2L301.4 164.2L298.9 162.2L296.4 160.4L293.8 158.7L291.2 157.2L288.6 155.7L285.9 154.4L283.3 153.1L280.7 152.0L278.1 151.1L275.5 150.2L273.0 149.5L270.5 148.8L268.1 148.3L265.8 147.9L263.6 147.6L261.5 147.3L259.6 147.2L257.7 147.1L256.0 147.1L254.5 147.2L253.1 147.3L251.8 147.5L250.7 147.7L249.8 148.0L249.0 148.3L248.4 148.7L247.9 149.1L247.6 149.5L247.5 149.9L247.5 150.4L247.7 150.9L248.1 151.3L248.6 151.8L249.2 152.3L250.0 152.8L250.9 153.4L252.0 153.9L253.2 154.4L254.5 155.0L256.0 155.5L257.6 156.1L259.3 156.6L261.1 157.2L263.1 157.9L265.1 158.5L267.2 159.1L269.5 159.8L271.8 160.5L274.2 161.3L276.7 162.0L279.3 162.9L281.9 163.7L284.6 164.6L287.3 165.6L290.1 166.6L293.0 167.6L295.8 168.8L298.7 170.0L301.6 171.2L304.5 172.5L307.4 173.9L310.3 175.4L313.2 176.9L316.0 178.5L318.9 180.1L321.7 181.9L324.5 183.7L327.2 185.6L329.9 187.5L332.5 189.5L335.1 191.6L337.6 193.8L340.0 196.0L342.4 198.3L344.7 200.6L347.0 203.0L349.1 205.4L351.2 207.9L353.3 210.4L355.2 213.0L357.1 215.6L358.8 218.2L360.5 220.9L362.2 223.6L363.7 226.3L365.2 229.0L366.6 231.7L367.9 234.4L369.1 237.1L370.3 239.9L371.4 242.6L372.4 245.3L373.4 247.9L374.2 250.6L375.0 253.2L375.8 255.8L376.4 258.3L377.0 260.8L377.6 263.3L378.0 265.7L378.5 268.0L378.8 270.3L379.1 272.5L379.3 274.7L379.5 276.7L379.6 278.7L379.7 280.6L379.7 282.4L379.7 284.1L379.6 285.8L379.4 287.3L379.3 288.7L379.0 290.1L378.8 291.3L378.5 292.4L378.1 293.4L377.7 294.3L377.3 295.0L376.9 295.7L376.4 296.2L375.8 296.6L375.3 296.9L374.7 297.0L374.1 297.1L373.5 297.0ZM406.9 278.8L406.2 278.2L405.6 277.4L405.0 276.5L404.3 275.5L403.7 274.3L403.1 273.1L402.4 271.7L401.8 270.1L401.2 268.5L400.6 266.7L400.0 264.9L399.4 262.9L398.8 260.8L398.3 258.6L397.7 256.3L397.2 253.9L396.6 251.4L396.1 248.8L395.6 246.2L395.1 243.4L394.6 240.6L394.2 237.7L393.7 234.7L393.3 231.6L392.8 228.5L392.4 225.3L392.0 222.1L391.6 218.8L391.2 215.5L390.8 212.1L390.5 208.7L390.1 205.3L389.8 201.8L389.4 198.3L389.0 194.8L388.7 191.3L388.3 187.7L388.0 184.2L387.6 180.6L387.2 177.0L386.8 173.5L386.4 170.0L386.0 166.4L385.5 162.9L385.0 159.4L384.5 156.0L384.0 152.6L383.3 149.2L382.7 145.8L382.0 142.5L381.2 139.3L380.3 136.1L379.3 132.9L378.2 129.8L377.0 126.8L375.7 123.9L374.2 121.0L372.6 118.3L370.8 115.6L368.8 113.0L366.6 110.5L364.2 108.1L361.5 105.8L358.6 103.7L355.3 101.7L351.8 99.8L348.0 98.0L344.0 96.4L339.6 94.9L335.0 93.6L330.2 92.5L325.3 91.5L320.2 90.6L315.1 89.9L310.1 89.3L305.3 88.9L300.6 88.6L296.3 88.5L292.3 88.4L288.7 88.5L285.6 88.6L283.0 88.8L280.9 89.1L279.2 89.4L278.1 89.8L277.4 90.2L277.3 90.6L277.5 91.1L278.3 91.6L279.4 92.2L280.9 92.8L282.8 93.4L285.0 94.0L287.5 94.7L290.3 95.4L293.4 96.2L296.7 97.0L300.2 97.9L303.8 98.8L307.6 99.8L311.6 100.9L315.5 102.1L319.6 103.3L323.7 104.6L327.7 106.0L331.8 107.5L335.8 109.1L339.8 110.7L343.7 112.5L347.5 114.3L351.2 116.3L354.8 118.3L358.3 120.4L361.7 122.6L365.0 124.9L368.1 127.3L371.2 129.8L374.1 132.3L376.9 135.0L379.5 137.6L382.1 140.4L384.5 143.2L386.8 146.1L389.1 149.1L391.2 152.1L393.2 155.1L395.1 158.2L396.9 161.4L398.6 164.5L400.2 167.8L401.7 171.0L403.2 174.3L404.5 177.6L405.8 180.9L407.0 184.2L408.2 187.5L409.2 190.9L410.2 194.2L411.1 197.5L412.0 200.8L412.8 204.2L413.5 207.4L414.2 210.7L414.8 214.0L415.3 217.2L415.8 220.4L416.2 223.5L416.6 226.6L416.9 229.6L417.2 232.6L417.4 235.6L417.6 238.4L417.7 241.3L417.8 244.0L417.9 246.7L417.9 249.3L417.8 251.8L417.7 254.2L417.6 256.6L417.4 258.8L417.2 260.9L417.0 263.0L416.8 264.9L416.5 266.8L416.1 268.5L415.8 270.1L415.4 271.6L415.0 273.0L414.5 274.3L414.1 275.5L413.6 276.5L413.1 277.4L412.6 278.1L412.0 278.8L411.5 279.3L410.9 279.7L410.3 279.9L409.7 280.0L409.1 280.0L408.5 279.9L407.9 279.6L407.3 279.1ZM443.3 279.3L442.8 278.3L442.3 277.3L441.9 276.1L441.5 274.8L441.1 273.3L440.7 271.8L440.4 270.1L440.1 268.4L439.8 266.5L439.6 264.5L439.4 262.4L439.3 260.2L439.2 258.0L439.1 255.6L439.1 253.1L439.1 250.6L439.1 248.0L439.3 245.3L439.4 242.5L439.6 239.7L439.9 236.8L440.2 233.8L440.5 230.8L440.9 227.7L441.4 224.6L441.9 221.5L442.5 218.3L443.2 215.1L443.9 211.8L444.7 208.6L445.5 205.3L446.4 202.0L447.4 198.7L448.4 195.4L449.6 192.1L450.8 188.7L452.0 185.4L453.4 182.2L454.8 178.9L456.4 175.7L458.0 172.4L459.7 169.3L461.5 166.1L463.4 163.0L465.4 159.9L467.5 156.9L469.7 153.9L472.0 151.0L474.4 148.2L476.9 145.4L479.5 142.7L482.3 140.1L485.1 137.5L488.1 135.0L491.2 132.6L494.3 130.3L497.6 128.0L501.0 125.9L504.5 123.8L508.0 121.8L511.7 119.9L515.4 118.1L519.2 116.4L523.0 114.8L526.8 113.3L530.7 111.8L534.5 110.5L538.3 109.2L542.1 108.0L545.8 106.9L549.4 105.9L552.9 104.9L556.3 103.9L559.4 103.1L562.4 102.3L565.2 101.5L567.8 100.8L570.1 100.1L572.2 99.4L573.9 98.8L575.4 98.2L576.5 97.7L577.2 97.1L577.6 96.6L577.7 96.2L577.3 95.8L576.6 95.4L575.4 95.0L573.8 94.7L571.8 94.5L569.5 94.3L566.7 94.2L563.6 94.2L560.1 94.2L556.3 94.4L552.3 94.7L548.1 95.1L543.7 95.7L539.3 96.4L534.8 97.2L530.4 98.2L526.0 99.3L521.8 100.6L517.8 102.0L513.9 103.6L510.2 105.3L506.8 107.1L503.6 109.1L500.6 111.2L497.9 113.4L495.3 115.7L493.0 118.2L490.8 120.7L488.8 123.4L487.0 126.1L485.4 128.9L483.9 131.8L482.5 134.8L481.2 137.8L480.0 140.9L479.0 144.1L478.0 147.3L477.1 150.6L476.2 153.9L475.4 157.2L474.7 160.6L474.0 164.0L473.4 167.5L472.8 170.9L472.2 174.4L471.7 177.9L471.1 181.4L470.6 184.9L470.1 188.5L469.7 192.0L469.2 195.5L468.7 198.9L468.3 202.4L467.8 205.9L467.4 209.3L466.9 212.7L466.5 216.0L466.0 219.3L465.6 222.6L465.1 225.8L464.6 229.0L464.1 232.1L463.6 235.2L463.1 238.2L462.6 241.1L462.1 244.0L461.6 246.8L461.0 249.5L460.5 252.1L459.9 254.6L459.4 257.0L458.8 259.4L458.2 261.6L457.6 263.8L457.0 265.8L456.4 267.7L455.8 269.6L455.1 271.3L454.5 272.9L453.9 274.3L453.2 275.7L452.6 276.9L451.9 278.0L451.3 279.0L450.7 279.8L450.0 280.6L449.4 281.2L448.8 281.6L448.1 281.9L447.5 282.1L446.9 282.2L446.3 282.1L445.7 281.9L445.2 281.6L444.6 281.1L444.1 280.5L443.6 279.8ZM476.8 298.1L476.5 296.9L476.3 295.7L476.1 294.3L475.9 292.9L475.8 291.3L475.8 289.7L475.8 287.9L475.8 286.1L475.9 284.2L476.0 282.2L476.2 280.1L476.5 278.0L476.8 275.7L477.2 273.5L477.6 271.1L478.1 268.7L478.7 266.2L479.3 263.7L480.0 261.2L480.8 258.6L481.7 256.0L482.6 253.3L483.5 250.7L484.6 248.0L485.7 245.3L486.9 242.6L488.2 239.9L489.5 237.2L490.9 234.5L492.4 231.8L494.0 229.1L495.6 226.4L497.3 223.8L499.1 221.2L501.0 218.6L502.9 216.1L504.9 213.6L507.0 211.2L509.2 208.8L511.4 206.4L513.7 204.1L516.0 201.9L518.4 199.7L520.9 197.6L523.4 195.6L526.0 193.6L528.6 191.7L531.2 189.8L533.9 188.0L536.6 186.3L539.3 184.7L542.1 183.1L544.8 181.6L547.6 180.2L550.4 178.8L553.1 177.5L555.9 176.3L558.6 175.1L561.3 174.0L563.9 172.9L566.5 171.9L569.1 170.9L571.6 170.0L574.0 169.1L576.4 168.3L578.7 167.5L580.9 166.7L583.1 165.9L585.1 165.2L587.1 164.5L588.9 163.9L590.7 163.2L592.3 162.6L593.9 162.0L595.3 161.4L596.6 160.8L597.7 160.2L598.8 159.7L599.7 159.1L600.5 158.6L601.1 158.1L601.6 157.6L602.0 157.1L602.2 156.6L602.3 156.1L602.2 155.7L602.0 155.3L601.6 154.9L601.0 154.5L600.4 154.2L599.5 153.9L598.6 153.7L597.5 153.5L596.2 153.4L594.8 153.3L593.3 153.3L591.6 153.4L589.8 153.6L588.0 153.8L586.0 154.1L583.9 154.6L581.7 155.1L579.5 155.7L577.2 156.5L574.8 157.3L572.5 158.2L570.0 159.3L567.6 160.5L565.2 161.8L562.7 163.2L560.3 164.7L557.9 166.4L555.6 168.1L553.2 170.0L550.9 172.0L548.7 174.1L546.5 176.2L544.4 178.5L542.3 180.9L540.3 183.3L538.3 185.8L536.4 188.5L534.6 191.1L532.8 193.9L531.0 196.7L529.4 199.5L527.8 202.4L526.2 205.4L524.7 208.4L523.2 211.4L521.8 214.5L520.4 217.5L519.0 220.6L517.7 223.7L516.4 226.8L515.2 229.9L514.0 233.0L512.8 236.1L511.7 239.2L510.5 242.2L509.4 245.3L508.3 248.2L507.3 251.2L506.2 254.1L505.2 257.0L504.2 259.8L503.2 262.6L502.2 265.3L501.2 267.9L500.2 270.5L499.3 273.0L498.3 275.4L497.4 277.8L496.5 280.0L495.6 282.2L494.7 284.3L493.8 286.3L492.9 288.2L492.1 290.0L491.2 291.6L490.3 293.2L489.5 294.7L488.7 296.0L487.9 297.3L487.1 298.4L486.3 299.4L485.6 300.3L484.8 301.0L484.1 301.7L483.4 302.2L482.7 302.6L482.0 302.8L481.4 303.0L480.8 303.0L480.2 302.9L479.7 302.7L479.1 302.3L478.6 301.8L478.2 301.2L477.8 300.5L477.4 299.7L477.0 298.7ZM504.3 331.4L504.2 330.2L504.1 328.9L504.1 327.5L504.1 326.0L504.2 324.5L504.4 322.8L504.6 321.1L504.9 319.4L505.2 317.5L505.6 315.7L506.0 313.7L506.6 311.7L507.1 309.7L507.8 307.7L508.5 305.6L509.2 303.4L510.1 301.3L511.0 299.1L511.9 296.9L512.9 294.7L514.0 292.5L515.2 290.3L516.4 288.1L517.6 285.9L519.0 283.7L520.4 281.5L521.8 279.4L523.3 277.2L524.9 275.1L526.5 273.1L528.2 271.0L529.9 269.0L531.7 267.0L533.5 265.1L535.4 263.2L537.3 261.4L539.3 259.6L541.3 257.8L543.3 256.1L545.3 254.4L547.4 252.8L549.5 251.3L551.7 249.8L553.8 248.4L555.9 247.0L558.1 245.6L560.3 244.3L562.4 243.1L564.6 241.9L566.8 240.8L568.9 239.7L571.1 238.6L573.2 237.6L575.3 236.6L577.3 235.7L579.4 234.8L581.4 233.9L583.4 233.1L585.3 232.2L587.2 231.5L589.0 230.7L590.8 230.0L592.6 229.3L594.3 228.6L595.9 227.9L597.5 227.2L599.0 226.6L600.4 225.9L601.8 225.3L603.1 224.6L604.4 224.0L605.5 223.4L606.6 222.8L607.6 222.2L608.5 221.6L609.4 221.1L610.1 220.5L610.8 219.9L611.4 219.4L611.9 218.8L612.3 218.3L612.6 217.8L612.8 217.3L612.9 216.8L613.0 216.3L612.9 215.9L612.7 215.5L612.5 215.1L612.2 214.7L611.7 214.4L611.2 214.2L610.6 213.9L609.9 213.8L609.1 213.6L608.2 213.6L607.3 213.6L606.2 213.6L605.1 213.8L603.9 214.0L602.6 214.2L601.3 214.6L599.9 215.0L598.5 215.6L597.0 216.2L595.4 216.9L593.8 217.7L592.2 218.6L590.5 219.5L588.9 220.6L587.1 221.8L585.4 223.0L583.7 224.4L581.9 225.9L580.1 227.4L578.4 229.1L576.6 230.8L574.9 232.6L573.1 234.5L571.4 236.5L569.7 238.5L568.0 240.7L566.3 242.9L564.6 245.1L563.0 247.5L561.4 249.9L559.8 252.3L558.2 254.8L556.6 257.3L555.1 259.9L553.6 262.5L552.1 265.1L550.7 267.8L549.2 270.5L547.8 273.2L546.4 275.8L545.1 278.5L543.7 281.2L542.4 283.9L541.1 286.6L539.8 289.2L538.6 291.9L537.3 294.4L536.1 297.0L534.9 299.5L533.7 302.0L532.5 304.4L531.4 306.8L530.2 309.1L529.1 311.4L528.0 313.6L526.9 315.7L525.8 317.7L524.7 319.7L523.7 321.6L522.7 323.4L521.6 325.1L520.7 326.7L519.7 328.2L518.7 329.6L517.8 330.9L516.9 332.2L516.0 333.3L515.1 334.3L514.2 335.2L513.4 335.9L512.6 336.6L511.8 337.2L511.1 337.6L510.4 337.9L509.7 338.1L509.0 338.3L508.4 338.2L507.8 338.1L507.3 337.9L506.8 337.5L506.3 337.1L505.9 336.5L505.5 335.8L505.2 335.1L504.9 334.2L504.6 333.2L504.4 332.1ZM525.7 374.7L525.7 373.4L525.7 372.1L525.9 370.7L526.0 369.3L526.2 367.8L526.5 366.2L526.9 364.6L527.3 363.0L527.7 361.3L528.2 359.6L528.8 357.9L529.4 356.1L530.1 354.3L530.9 352.5L531.7 350.6L532.6 348.8L533.5 347.0L534.5 345.1L535.5 343.3L536.6 341.4L537.7 339.6L538.9 337.8L540.2 336.0L541.5 334.2L542.8 332.4L544.2 330.7L545.7 328.9L547.1 327.2L548.7 325.6L550.2 324.0L551.8 322.4L553.4 320.8L555.1 319.3L556.8 317.8L558.5 316.4L560.2 315.0L562.0 313.6L563.7 312.3L565.5 311.0L567.3 309.8L569.2 308.6L571.0 307.4L572.8 306.3L574.6 305.2L576.5 304.1L578.3 303.1L580.1 302.1L581.9 301.2L583.7 300.3L585.5 299.4L587.3 298.5L589.0 297.6L590.8 296.8L592.5 296.0L594.1 295.2L595.8 294.5L597.4 293.7L599.0 293.0L600.5 292.3L602.0 291.5L603.5 290.8L604.9 290.1L606.3 289.5L607.6 288.8L608.9 288.1L610.1 287.4L611.3 286.8L612.4 286.1L613.5 285.5L614.5 284.8L615.4 284.2L616.3 283.5L617.1 282.9L617.9 282.2L618.6 281.6L619.2 281.0L619.8 280.4L620.3 279.8L620.8 279.2L621.1 278.6L621.4 278.1L621.6 277.5L621.8 277.0L621.9 276.5L621.9 276.1L621.8 275.6L621.7 275.2L621.5 274.9L621.2 274.5L620.9 274.3L620.5 274.0L620.0 273.8L619.5 273.7L618.9 273.6L618.2 273.6L617.5 273.6L616.7 273.7L615.8 273.9L614.9 274.1L614.0 274.4L612.9 274.8L611.9 275.3L610.8 275.8L609.6 276.4L608.5 277.1L607.2 277.9L606.0 278.8L604.7 279.7L603.4 280.8L602.0 281.9L600.7 283.1L599.3 284.4L597.9 285.8L596.5 287.2L595.1 288.7L593.6 290.4L592.2 292.0L590.8 293.8L589.3 295.6L587.9 297.5L586.4 299.5L585.0 301.5L583.5 303.6L582.1 305.7L580.7 307.9L579.2 310.1L577.8 312.3L576.4 314.6L575.0 317.0L573.6 319.3L572.3 321.7L570.9 324.1L569.5 326.5L568.2 328.9L566.9 331.3L565.5 333.7L564.2 336.1L562.9 338.5L561.7 340.9L560.4 343.2L559.1 345.6L557.9 347.9L556.6 350.1L555.4 352.3L554.2 354.5L553.0 356.6L551.8 358.7L550.7 360.7L549.5 362.6L548.4 364.5L547.3 366.3L546.1 368.0L545.1 369.6L544.0 371.2L542.9 372.7L541.9 374.1L540.9 375.4L539.9 376.6L538.9 377.7L538.0 378.7L537.0 379.6L536.1 380.4L535.3 381.1L534.4 381.7L533.6 382.2L532.8 382.6L532.1 382.9L531.4 383.1L530.7 383.2L530.0 383.2L529.4 383.1L528.9 382.8L528.3 382.5L527.9 382.1L527.4 381.6L527.0 380.9L526.7 380.2L526.4 379.4L526.2 378.6L526.0 377.6L525.8 376.5L525.7 375.4ZM542.3 424.3L542.4 423.0L542.6 421.8L542.7 420.4L543.0 419.0L543.3 417.6L543.7 416.2L544.1 414.7L544.5 413.2L545.1 411.6L545.7 410.1L546.3 408.5L547.0 406.9L547.8 405.3L548.6 403.7L549.4 402.1L550.3 400.5L551.3 398.9L552.3 397.3L553.4 395.8L554.5 394.2L555.6 392.7L556.8 391.1L558.1 389.6L559.3 388.2L560.7 386.7L562.0 385.3L563.4 383.9L564.8 382.5L566.3 381.1L567.7 379.8L569.2 378.5L570.8 377.3L572.3 376.0L573.9 374.8L575.5 373.7L577.1 372.5L578.7 371.4L580.3 370.4L581.9 369.3L583.6 368.3L585.2 367.3L586.9 366.3L588.5 365.4L590.1 364.5L591.8 363.6L593.4 362.7L595.0 361.8L596.6 361.0L598.2 360.2L599.8 359.4L601.3 358.6L602.8 357.8L604.3 357.0L605.8 356.2L607.3 355.5L608.7 354.7L610.1 353.9L611.5 353.2L612.8 352.5L614.1 351.7L615.4 351.0L616.6 350.2L617.8 349.5L618.9 348.8L620.0 348.0L621.0 347.3L622.0 346.6L623.0 345.8L623.9 345.1L624.7 344.4L625.5 343.7L626.3 343.0L627.0 342.3L627.6 341.6L628.2 340.9L628.7 340.2L629.2 339.5L629.6 338.9L629.9 338.3L630.2 337.7L630.5 337.1L630.6 336.5L630.8 336.0L630.8 335.5L630.8 335.0L630.7 334.6L630.6 334.2L630.4 333.9L630.2 333.6L629.9 333.3L629.6 333.1L629.1 333.0L628.7 332.9L628.2 332.9L627.6 332.9L627.0 333.0L626.3 333.2L625.6 333.4L624.8 333.7L624.0 334.1L623.2 334.5L622.3 335.1L621.4 335.7L620.4 336.4L619.4 337.1L618.4 338.0L617.3 338.9L616.3 339.9L615.2 341.0L614.0 342.1L612.9 343.3L611.7 344.7L610.5 346.0L609.3 347.5L608.1 349.0L606.8 350.6L605.6 352.3L604.3 354.0L603.0 355.8L601.8 357.7L600.5 359.6L599.2 361.5L597.9 363.5L596.6 365.6L595.3 367.7L594.0 369.8L592.7 371.9L591.4 374.1L590.1 376.3L588.8 378.5L587.6 380.8L586.3 383.0L585.0 385.3L583.7 387.5L582.4 389.8L581.2 392.0L579.9 394.3L578.6 396.5L577.4 398.7L576.2 400.8L574.9 402.9L573.7 405.0L572.5 407.1L571.2 409.1L570.0 411.0L568.8 412.9L567.7 414.7L566.5 416.5L565.3 418.2L564.2 419.8L563.0 421.4L561.9 422.9L560.8 424.3L559.7 425.6L558.7 426.8L557.6 428.0L556.6 429.0L555.6 430.0L554.6 430.8L553.7 431.6L552.8 432.3L551.9 432.9L551.0 433.3L550.2 433.7L549.4 434.0L548.6 434.2L547.9 434.3L547.2 434.3L546.5 434.2L545.9 434.0L545.4 433.7L544.8 433.3L544.4 432.8L543.9 432.3L543.6 431.6L543.2 430.9L542.9 430.1L542.7 429.2L542.5 428.3L542.4 427.2L542.3 426.2L542.3 425.0ZM555.7 477.9L555.8 476.7L556.0 475.5L556.3 474.2L556.6 472.9L556.9 471.5L557.4 470.2L557.8 468.8L558.4 467.4L559.0 466.0L559.6 464.6L560.3 463.1L561.1 461.7L561.9 460.3L562.7 458.9L563.6 457.5L564.6 456.0L565.6 454.7L566.6 453.3L567.7 451.9L568.8 450.6L570.0 449.2L571.2 447.9L572.4 446.6L573.7 445.4L575.0 444.1L576.3 442.9L577.7 441.7L579.1 440.5L580.5 439.4L582.0 438.2L583.4 437.1L584.9 436.0L586.4 435.0L587.9 434.0L589.4 432.9L591.0 431.9L592.5 431.0L594.1 430.0L595.6 429.1L597.2 428.2L598.7 427.3L600.3 426.4L601.8 425.5L603.4 424.6L604.9 423.8L606.4 422.9L607.9 422.1L609.4 421.2L610.9 420.4L612.4 419.6L613.8 418.7L615.3 417.9L616.7 417.1L618.0 416.3L619.4 415.4L620.7 414.6L622.0 413.8L623.2 412.9L624.5 412.1L625.6 411.3L626.8 410.4L627.9 409.6L629.0 408.8L630.0 407.9L631.0 407.1L631.9 406.3L632.8 405.4L633.7 404.6L634.5 403.8L635.3 402.9L636.0 402.1L636.6 401.3L637.3 400.5L637.8 399.8L638.3 399.0L638.8 398.3L639.2 397.5L639.6 396.8L639.9 396.2L640.1 395.5L640.3 394.9L640.4 394.3L640.5 393.8L640.6 393.3L640.5 392.8L640.5 392.4L640.3 392.0L640.2 391.7L639.9 391.5L639.6 391.3L639.3 391.1L638.9 391.0L638.5 391.0L638.1 391.0L637.5 391.1L637.0 391.3L636.4 391.6L635.7 391.9L635.1 392.3L634.3 392.8L633.6 393.3L632.8 393.9L632.0 394.6L631.1 395.4L630.2 396.3L629.3 397.2L628.3 398.2L627.4 399.3L626.4 400.5L625.4 401.7L624.3 403.0L623.3 404.4L622.2 405.9L621.1 407.4L620.0 409.0L618.8 410.7L617.7 412.4L616.5 414.2L615.4 416.0L614.2 417.9L613.0 419.8L611.8 421.8L610.6 423.8L609.4 425.9L608.2 427.9L607.0 430.1L605.7 432.2L604.5 434.4L603.3 436.5L602.0 438.7L600.8 440.9L599.5 443.1L598.3 445.3L597.0 447.5L595.8 449.7L594.5 451.8L593.3 453.9L592.0 456.1L590.8 458.1L589.5 460.2L588.3 462.2L587.0 464.1L585.8 466.1L584.6 467.9L583.4 469.7L582.1 471.5L580.9 473.1L579.7 474.7L578.5 476.3L577.4 477.7L576.2 479.1L575.0 480.4L573.9 481.7L572.8 482.8L571.7 483.8L570.6 484.8L569.6 485.7L568.5 486.4L567.5 487.1L566.6 487.7L565.6 488.2L564.7 488.6L563.8 488.9L563.0 489.1L562.2 489.2L561.4 489.2L560.7 489.2L560.0 489.0L559.4 488.7L558.8 488.4L558.2 488.0L557.7 487.5L557.3 486.9L556.9 486.2L556.5 485.5L556.2 484.7L556.0 483.9L555.8 482.9L555.7 481.9L555.6 480.9L555.6 479.8L555.6 478.7ZM566.8 534.2L567.0 533.0L567.2 531.8L567.6 530.6L567.9 529.3L568.4 528.1L568.8 526.8L569.4 525.5L570.0 524.2L570.7 522.9L571.4 521.6L572.1 520.3L573.0 519.0L573.8 517.7L574.7 516.4L575.7 515.1L576.7 513.9L577.8 512.6L578.9 511.4L580.0 510.2L581.2 509.0L582.4 507.8L583.7 506.6L585.0 505.5L586.3 504.4L587.6 503.3L589.0 502.2L590.4 501.1L591.8 500.0L593.3 499.0L594.7 498.0L596.2 497.0L597.7 496.0L599.2 495.0L600.8 494.0L602.3 493.1L603.8 492.1L605.4 491.2L606.9 490.2L608.5 489.3L610.0 488.4L611.6 487.5L613.1 486.6L614.7 485.6L616.2 484.7L617.7 483.8L619.2 482.9L620.7 482.0L622.2 481.1L623.6 480.1L625.1 479.2L626.5 478.3L627.9 477.3L629.2 476.4L630.6 475.4L631.9 474.5L633.1 473.5L634.4 472.5L635.6 471.6L636.8 470.6L637.9 469.6L639.0 468.6L640.1 467.6L641.1 466.6L642.1 465.6L643.0 464.6L643.9 463.7L644.8 462.7L645.6 461.7L646.3 460.8L647.0 459.8L647.7 458.9L648.3 458.0L648.9 457.1L649.4 456.2L649.9 455.3L650.3 454.5L650.6 453.7L651.0 453.0L651.2 452.2L651.4 451.5L651.6 450.9L651.7 450.3L651.8 449.7L651.8 449.2L651.7 448.8L651.6 448.4L651.5 448.0L651.3 447.8L651.1 447.6L650.8 447.4L650.5 447.3L650.1 447.3L649.7 447.4L649.3 447.5L648.8 447.7L648.2 448.0L647.7 448.3L647.1 448.7L646.4 449.3L645.8 449.9L645.0 450.5L644.3 451.3L643.5 452.1L642.7 453.0L641.9 454.0L641.0 455.1L640.1 456.2L639.2 457.5L638.3 458.8L637.3 460.1L636.4 461.6L635.4 463.1L634.4 464.7L633.3 466.3L632.3 468.1L631.2 469.8L630.1 471.7L629.0 473.5L627.9 475.5L626.8 477.5L625.6 479.5L624.5 481.5L623.3 483.6L622.1 485.8L620.9 487.9L619.7 490.1L618.5 492.3L617.3 494.5L616.1 496.7L614.8 498.9L613.6 501.2L612.4 503.4L611.1 505.6L609.8 507.8L608.6 509.9L607.3 512.1L606.0 514.2L604.7 516.3L603.4 518.4L602.1 520.4L600.8 522.3L599.6 524.2L598.3 526.1L597.0 527.9L595.7 529.6L594.4 531.3L593.1 532.8L591.8 534.4L590.6 535.8L589.3 537.1L588.1 538.4L586.9 539.6L585.6 540.7L584.4 541.7L583.3 542.6L582.1 543.5L581.0 544.2L579.9 544.8L578.8 545.4L577.8 545.8L576.8 546.2L575.8 546.4L574.9 546.6L574.0 546.6L573.1 546.6L572.3 546.5L571.6 546.3L570.9 546.0L570.2 545.7L569.6 545.2L569.0 544.7L568.5 544.1L568.1 543.5L567.7 542.7L567.4 541.9L567.1 541.1L566.9 540.2L566.7 539.2L566.6 538.2L566.6 537.1L566.6 536.0L566.7 534.9Z" fill="none" stroke="#6c64b8" stroke-width="1.3"/>
<path d="M0 0L-12.9 -3.2L-11.2 0L-12.9 3.2Z" fill="#5a50b4" stroke="#5a50b4" stroke-width="0.9" stroke-linejoin="round" transform="translate(265.6 456.2) rotate(-126.2)"/>
<path d="M0 0L-12.9 -3.2L-11.2 0L-12.9 3.2Z" fill="#5a50b4" stroke="#5a50b4" stroke-width="0.9" stroke-linejoin="round" transform="translate(276.2 393.0) rotate(-123.5)"/>
<path d="M0 0L-12.9 -3.2L-11.2 0L-12.9 3.2Z" fill="#5a50b4" stroke="#5a50b4" stroke-width="0.9" stroke-linejoin="round" transform="translate(293.1 336.9) rotate(-120.6)"/>
<path d="M0 0L-12.9 -3.2L-11.2 0L-12.9 3.2Z" fill="#5a50b4" stroke="#5a50b4" stroke-width="0.9" stroke-linejoin="round" transform="translate(315.3 285.1) rotate(-116.6)"/>
<path d="M0 0L-12.9 -3.2L-11.2 0L-12.9 3.2Z" fill="#5a50b4" stroke="#5a50b4" stroke-width="0.9" stroke-linejoin="round" transform="translate(346.7 241.7) rotate(-109.7)"/>
<path d="M0 0L-12.9 -3.2L-11.2 0L-12.9 3.2Z" fill="#5a50b4" stroke="#5a50b4" stroke-width="0.9" stroke-linejoin="round" transform="translate(391.0 213.6) rotate(-97.1)"/>
<path d="M0 0L-12.9 -3.2L-11.2 0L-12.9 3.2Z" fill="#5a50b4" stroke="#5a50b4" stroke-width="0.9" stroke-linejoin="round" transform="translate(444.1 209.9) rotate(-79.1)"/>
<path d="M0 0L-12.9 -3.2L-11.2 0L-12.9 3.2Z" fill="#5a50b4" stroke="#5a50b4" stroke-width="0.9" stroke-linejoin="round" transform="translate(491.9 232.1) rotate(-64.3)"/>
<path d="M0 0L-12.9 -3.2L-11.2 0L-12.9 3.2Z" fill="#5a50b4" stroke="#5a50b4" stroke-width="0.9" stroke-linejoin="round" transform="translate(526.7 272.3) rotate(-55.3)"/>
<path d="M0 0L-12.9 -3.2L-11.2 0L-12.9 3.2Z" fill="#5a50b4" stroke="#5a50b4" stroke-width="0.9" stroke-linejoin="round" transform="translate(551.2 322.4) rotate(-49.5)"/>
<path d="M0 0L-12.9 -3.2L-11.2 0L-12.9 3.2Z" fill="#5a50b4" stroke="#5a50b4" stroke-width="0.9" stroke-linejoin="round" transform="translate(569.5 377.8) rotate(-44.8)"/>
<path d="M0 0L-12.9 -3.2L-11.2 0L-12.9 3.2Z" fill="#5a50b4" stroke="#5a50b4" stroke-width="0.9" stroke-linejoin="round" transform="translate(584.2 436.1) rotate(-40.7)"/>
<path d="M244.7 465.7L245.6 461.7L246.4 457.7L247.3 453.7L248.1 449.6L249.0 445.6L249.8 441.6L250.7 437.6L251.5 433.6L252.4 429.6L253.3 425.6L254.1 421.6L255.0 417.5L255.9 413.5L256.8 409.5L257.7 405.5L258.6 401.5L259.5 397.6L260.4 393.6L261.3 389.6L262.2 385.6L263.2 381.6L264.1 377.7L265.1 373.7L266.0 369.8L267.0 365.8L268.0 361.9L269.0 357.9L270.0 354.0L271.0 350.1L272.1 346.2L273.1 342.2L274.2 338.4L275.3 334.5L276.4 330.6L277.6 326.7L278.7 322.9L279.9 319.0L281.1 315.2L282.3 311.4L283.5 307.6L284.8 303.8L286.1 300.0L287.4 296.3L288.8 292.5L290.2 288.8L291.6 285.1L293.1 281.4L294.6 277.7L296.1 274.1L297.6 270.5L299.3 266.9L300.9 263.3L302.6 259.8L304.4 256.3L306.2 252.8L308.0 249.4L309.9 245.9L311.9 242.6L313.9 239.2L316.0 235.9L318.2 232.7L320.4 229.5L322.7 226.3L325.1 223.2L327.5 220.2L330.1 217.2L332.7 214.3L335.4 211.4L338.2 208.6L341.1 205.9L344.1 203.3L347.2 200.7L350.4 198.2L353.7 195.8L357.1 193.6L360.7 191.4L364.3 189.3L368.0 187.3L371.8 185.5L375.8 183.8L379.8 182.2L383.9 180.7L388.2 179.4L392.5 178.2L396.9 177.2L401.3 176.3L405.8 175.6L410.4 175.0L415.0 174.6L419.6 174.4L424.2 174.3L428.8 174.4L433.4 174.6L438.0 175.0L442.6 175.6L447.1 176.3L451.5 177.2L455.9 178.2L460.2 179.4L464.5 180.7L468.6 182.2L472.6 183.8L476.6 185.5L480.4 187.3L484.1 189.3L487.7 191.4L491.3 193.6L494.7 195.8L498.0 198.2L501.2 200.7L504.3 203.3L507.3 205.9L510.2 208.6L513.0 211.4L515.7 214.3L518.3 217.2L520.9 220.2L523.3 223.2L525.7 226.3L528.0 229.5L530.2 232.7L532.4 235.9L534.5 239.2L536.5 242.6L538.5 245.9L540.4 249.4L542.2 252.8L544.0 256.3L545.8 259.8L547.5 263.3L549.1 266.9L550.8 270.5L552.3 274.1L553.8 277.7L555.3 281.4L556.8 285.1L558.2 288.8L559.6 292.5L561.0 296.3L562.3 300.0L563.6 303.8L564.9 307.6L566.1 311.4L567.3 315.2L568.5 319.0L569.7 322.9L570.8 326.7L572.0 330.6L573.1 334.5L574.2 338.4L575.3 342.2L576.3 346.2L577.4 350.1L578.4 354.0L579.4 357.9L580.4 361.9L581.4 365.8L582.4 369.8L583.3 373.7L584.3 377.7L585.2 381.6L586.2 385.6L587.1 389.6L588.0 393.6L588.9 397.6L589.8 401.5L590.7 405.5L591.6 409.5L592.5 413.5L593.4 417.5L594.3 421.6L595.1 425.6L596.0 429.6L596.9 433.6L597.7 437.6L598.6 441.6L599.4 445.6L600.3 449.6L601.1 453.7L602.0 457.7L602.9 461.7L603.7 465.7" fill="none" stroke="#574e10" stroke-width="1.3"/>
</g>
<path d="M192.7 465.8L193.6 462.2L194.4 458.6L195.3 454.9L196.1 451.3L196.9 447.6L197.7 444.0L198.5 440.3L199.3 436.6L200.1 432.9L200.8 429.2L201.6 425.5L202.3 421.8L203.1 418.0L203.8 414.3L204.5 410.5L205.3 406.8L206.0 403.0L206.7 399.2L207.4 395.4L208.1 391.6L208.8 387.8L209.4 384.0L210.1 380.2L210.8 376.4L211.4 372.5L212.1 368.7L212.7 364.8L213.4 361.0L214.0 357.1L214.7 353.2L215.3 349.4L215.9 345.5L216.5 341.6L217.1 337.7L217.8 333.8L218.4 329.9L219.0 326.0L219.6 322.1L220.2 318.2L220.8 314.3L221.4 310.3L222.0 306.4L222.6 302.5L223.2 298.5L223.7 294.6L224.3 290.6L224.9 286.7L225.5 282.7L226.1 278.8L226.7 274.8L227.3 270.8L227.8 266.9L228.4 262.9L229.0 258.9L229.6 254.9L230.2 251.0L230.8 247.0L231.4 243.0L232.0 239.0L232.6 235.0L233.2 231.0L233.8 227.0L234.4 223.0L235.0 219.0L235.6 215.0L236.2 211.0L236.9 207.0L237.5 203.0L238.2 199.0L238.8 195.0L239.5 191.0L240.2 187.0L240.9 182.9L241.6 178.9L242.3 174.9L243.1 170.9L243.9 166.9L244.7 162.9L245.5 158.8L246.4 154.8L247.3 150.8L248.2 146.8L249.2 142.8L250.3 138.8L251.4 134.7L252.6 130.7L253.9 126.7L255.3 122.7L256.9 118.7L258.6 114.7L260.5 110.7L262.7 106.7L265.3 102.8L268.2 98.8L271.8 94.9L276.2 91.0L281.9 87.2L289.3 83.4L299.5 79.7L314.5 76.3L337.6 73.2L373.9 70.9L424.2 70.0L474.5 70.9L510.8 73.2L533.9 76.3L548.9 79.7L559.1 83.4L566.5 87.2L572.2 91.0L576.6 94.9L580.2 98.8L583.1 102.8L585.7 106.7L587.9 110.7L589.8 114.7L591.5 118.7L593.1 122.7L594.5 126.7L595.8 130.7L597.0 134.7L598.1 138.8L599.2 142.8L600.2 146.8L601.1 150.8L602.0 154.8L602.9 158.8L603.7 162.9L604.5 166.9L605.3 170.9L606.1 174.9L606.8 178.9L607.5 182.9L608.2 187.0L608.9 191.0L609.6 195.0L610.2 199.0L610.9 203.0L611.5 207.0L612.2 211.0L612.8 215.0L613.4 219.0L614.0 223.0L614.6 227.0L615.2 231.0L615.8 235.0L616.4 239.0L617.0 243.0L617.6 247.0L618.2 251.0L618.8 254.9L619.4 258.9L620.0 262.9L620.6 266.9L621.1 270.8L621.7 274.8L622.3 278.8L622.9 282.7L623.5 286.7L624.1 290.6L624.7 294.6L625.2 298.5L625.8 302.5L626.4 306.4L627.0 310.3L627.6 314.3L628.2 318.2L628.8 322.1L629.4 326.0L630.0 329.9L630.6 333.8L631.3 337.7L631.9 341.6L632.5 345.5L633.1 349.4L633.7 353.2L634.4 357.1L635.0 361.0L635.7 364.8L636.3 368.7L637.0 372.5L637.6 376.4L638.3 380.2L639.0 384.0L639.6 387.8L640.3 391.6L641.0 395.4L641.7 399.2L642.4 403.0L643.1 406.8L643.9 410.5L644.6 414.3L645.3 418.0L646.1 421.8L646.8 425.5L647.6 429.2L648.3 432.9L649.1 436.6L649.9 440.3L650.7 444.0L651.5 447.6L652.3 451.3L653.1 454.9L654.0 458.6L654.8 462.2L655.7 465.8" fill="none" stroke="#ff3a1e" stroke-width="1.4"/>
<path d="M296.7 464.8L297.5 461.2L298.4 457.6L299.2 454.0L300.1 450.5L301.0 446.9L301.9 443.4L302.8 439.8L303.8 436.3L304.7 432.8L305.7 429.4L306.6 425.9L307.6 422.5L308.6 419.0L309.7 415.6L310.7 412.2L311.7 408.9L312.8 405.5L313.9 402.2L315.0 398.9L316.1 395.6L317.2 392.4L318.4 389.1L319.6 385.9L320.8 382.7L322.0 379.6L323.2 376.4L324.5 373.3L325.7 370.3L327.0 367.2L328.4 364.2L329.7 361.2L331.1 358.3L332.5 355.3L333.9 352.5L335.3 349.6L336.8 346.8L338.3 344.0L339.8 341.3L341.3 338.6L342.9 335.9L344.5 333.3L346.1 330.8L347.7 328.2L349.4 325.7L351.1 323.3L352.9 320.9L354.6 318.6L356.4 316.3L358.2 314.1L360.1 311.9L361.9 309.8L363.8 307.7L365.8 305.7L367.7 303.8L369.7 301.9L371.7 300.1L373.8 298.3L375.9 296.6L378.0 295.0L380.1 293.4L382.2 292.0L384.4 290.6L386.6 289.2L388.9 287.9L391.1 286.8L393.4 285.6L395.7 284.6L398.0 283.6L400.3 282.8L402.6 282.0L405.0 281.3L407.4 280.6L409.7 280.1L412.1 279.6L414.5 279.2L416.9 278.9L419.4 278.7L421.8 278.6L424.2 278.5L426.6 278.6L429.0 278.7L431.5 278.9L433.9 279.2L436.3 279.6L438.7 280.1L441.0 280.6L443.4 281.3L445.8 282.0L448.1 282.8L450.4 283.6L452.7 284.6L455.0 285.6L457.3 286.8L459.5 287.9L461.8 289.2L464.0 290.6L466.2 292.0L468.3 293.4L470.4 295.0L472.5 296.6L474.6 298.3L476.7 300.1L478.7 301.9L480.7 303.8L482.6 305.7L484.6 307.7L486.5 309.8L488.3 311.9L490.2 314.1L492.0 316.3L493.8 318.6L495.5 320.9L497.3 323.3L499.0 325.7L500.7 328.2L502.3 330.8L503.9 333.3L505.5 335.9L507.1 338.6L508.6 341.3L510.1 344.0L511.6 346.8L513.1 349.6L514.5 352.5L515.9 355.3L517.3 358.3L518.7 361.2L520.0 364.2L521.4 367.2L522.7 370.3L523.9 373.3L525.2 376.4L526.4 379.6L527.6 382.7L528.8 385.9L530.0 389.1L531.2 392.4L532.3 395.6L533.4 398.9L534.5 402.2L535.6 405.5L536.7 408.9L537.7 412.2L538.7 415.6L539.8 419.0L540.8 422.5L541.8 425.9L542.7 429.4L543.7 432.8L544.6 436.3L545.6 439.8L546.5 443.4L547.4 446.9L548.3 450.5L549.2 454.0L550.0 457.6L550.9 461.2L551.7 464.8" fill="none" stroke="#2424f0" stroke-width="1.4"/>
<circle cx="203.1" cy="418.0" r="2.4" fill="#221e06"/>
<circle cx="213.4" cy="361.0" r="2.4" fill="#221e06"/>
<circle cx="222.6" cy="302.5" r="2.4" fill="#221e06"/>
<circle cx="231.4" cy="243.0" r="2.4" fill="#221e06"/>
<circle cx="240.9" cy="182.9" r="2.4" fill="#221e06"/>
<circle cx="255.3" cy="122.7" r="2.4" fill="#221e06"/>
<circle cx="424.2" cy="70.0" r="2.4" fill="#221e06"/>
<circle cx="593.1" cy="122.7" r="2.4" fill="#221e06"/>
<circle cx="607.5" cy="182.9" r="2.4" fill="#221e06"/>
<circle cx="617.0" cy="243.0" r="2.4" fill="#221e06"/>
<circle cx="625.8" cy="302.5" r="2.4" fill="#221e06"/>
<circle cx="635.0" cy="361.0" r="2.4" fill="#221e06"/>
<circle cx="645.3" cy="418.0" r="2.4" fill="#221e06"/>
<circle cx="245.6" cy="461.7" r="2.4" fill="#221e06"/>
<circle cx="258.6" cy="401.5" r="2.4" fill="#221e06"/>
<circle cx="273.1" cy="342.2" r="2.4" fill="#221e06"/>
<circle cx="291.6" cy="285.1" r="2.4" fill="#221e06"/>
<circle cx="318.2" cy="232.7" r="2.4" fill="#221e06"/>
<circle cx="360.7" cy="191.4" r="2.4" fill="#221e06"/>
<circle cx="424.2" cy="174.3" r="2.4" fill="#221e06"/>
<circle cx="487.7" cy="191.4" r="2.4" fill="#221e06"/>
<circle cx="530.2" cy="232.7" r="2.4" fill="#221e06"/>
<circle cx="556.8" cy="285.1" r="2.4" fill="#221e06"/>
<circle cx="575.3" cy="342.2" r="2.4" fill="#221e06"/>
<circle cx="589.8" cy="401.5" r="2.4" fill="#221e06"/>
<circle cx="602.9" cy="461.7" r="2.4" fill="#221e06"/>
<circle cx="300.1" cy="450.5" r="2.4" fill="#221e06"/>
<circle cx="315.0" cy="398.9" r="2.4" fill="#221e06"/>
<circle cx="333.9" cy="352.5" r="2.4" fill="#221e06"/>
<circle cx="358.2" cy="314.1" r="2.4" fill="#221e06"/>
<circle cx="388.9" cy="287.9" r="2.4" fill="#221e06"/>
<circle cx="424.2" cy="278.5" r="2.4" fill="#221e06"/>
<circle cx="459.5" cy="287.9" r="2.4" fill="#221e06"/>
<circle cx="490.2" cy="314.1" r="2.4" fill="#221e06"/>
<circle cx="514.5" cy="352.5" r="2.4" fill="#221e06"/>
<circle cx="533.4" cy="398.9" r="2.4" fill="#221e06"/>
<circle cx="548.3" cy="450.5" r="2.4" fill="#221e06"/>
</g>
<text x="327.8" y="19.9" font-size="24" fill="#585858" stroke="#585858" stroke-width="0.3" textLength="193.6" lengthAdjust="spacingAndGlyphs" >Solar azimuth [°]</text>
<text transform="translate(20.4 371.2) rotate(-90)" x="-0.7" y="0" font-size="24" fill="#585858" stroke="#585858" stroke-width="0.3" textLength="211.6" lengthAdjust="spacingAndGlyphs">Solar elevation [°]</text>
<text x="62.0" y="54.6" font-size="20" fill="#767676" stroke="#767676" stroke-width="0.3" textLength="10.3" lengthAdjust="spacingAndGlyphs" >0</text>
<text x="145.5" y="54.6" font-size="20" fill="#767676" stroke="#767676" stroke-width="0.3" textLength="22.2" lengthAdjust="spacingAndGlyphs" >45</text>
<text x="234.3" y="54.6" font-size="20" fill="#767676" stroke="#767676" stroke-width="0.3" textLength="22.7" lengthAdjust="spacingAndGlyphs" >90</text>
<text x="317.1" y="54.6" font-size="20" fill="#767676" stroke="#767676" stroke-width="0.3" textLength="35.3" lengthAdjust="spacingAndGlyphs" >135</text>
<text x="406.4" y="54.6" font-size="20" fill="#767676" stroke="#767676" stroke-width="0.3" textLength="35.2" lengthAdjust="spacingAndGlyphs" >180</text>
<text x="496.3" y="54.6" font-size="20" fill="#767676" stroke="#767676" stroke-width="0.3" textLength="34.7" lengthAdjust="spacingAndGlyphs" >225</text>
<text x="585.6" y="54.6" font-size="20" fill="#767676" stroke="#767676" stroke-width="0.3" textLength="34.6" lengthAdjust="spacingAndGlyphs" >270</text>
<text x="675.3" y="54.6" font-size="20" fill="#767676" stroke="#767676" stroke-width="0.3" textLength="34.4" lengthAdjust="spacingAndGlyphs" >315</text>
<text x="764.6" y="54.6" font-size="20" fill="#767676" stroke="#767676" stroke-width="0.3" textLength="34.3" lengthAdjust="spacingAndGlyphs" >360</text>
<text x="49.6" y="466.3" font-size="20" fill="#767676" stroke="#767676" stroke-width="0.3" textLength="10.3" lengthAdjust="spacingAndGlyphs" >0</text>
<text x="36.6" y="399.6" font-size="20" fill="#767676" stroke="#767676" stroke-width="0.3" textLength="23.5" lengthAdjust="spacingAndGlyphs" >15</text>
<text x="37.5" y="332.9" font-size="20" fill="#767676" stroke="#767676" stroke-width="0.3" textLength="22.5" lengthAdjust="spacingAndGlyphs" >30</text>
<text x="37.8" y="266.1" font-size="20" fill="#767676" stroke="#767676" stroke-width="0.3" textLength="22.2" lengthAdjust="spacingAndGlyphs" >45</text>
<text x="37.2" y="199.4" font-size="20" fill="#767676" stroke="#767676" stroke-width="0.3" textLength="22.8" lengthAdjust="spacingAndGlyphs" >60</text>
<text x="37.2" y="132.7" font-size="20" fill="#767676" stroke="#767676" stroke-width="0.3" textLength="22.9" lengthAdjust="spacingAndGlyphs" >75</text>
<text x="37.3" y="66.0" font-size="20" fill="#767676" stroke="#767676" stroke-width="0.3" textLength="22.7" lengthAdjust="spacingAndGlyphs" >90</text>
<text x="40.8" y="486.0" font-size="20" fill="#767676" stroke="#767676" stroke-width="0.3" textLength="52.7" lengthAdjust="spacingAndGlyphs" >North</text>
<text x="225.2" y="486.0" font-size="20" fill="#767676" stroke="#767676" stroke-width="0.3" textLength="39.2" lengthAdjust="spacingAndGlyphs" >East</text>
<text x="397.4" y="486.0" font-size="20" fill="#767676" stroke="#767676" stroke-width="0.3" textLength="53.9" lengthAdjust="spacingAndGlyphs" >South</text>
<text x="581.2" y="486.0" font-size="20" fill="#767676" stroke="#767676" stroke-width="0.3" textLength="44.0" lengthAdjust="spacingAndGlyphs" >West</text>
<text x="754.9" y="486.0" font-size="20" fill="#767676" stroke="#767676" stroke-width="0.3" textLength="53.4" lengthAdjust="spacingAndGlyphs" >North</text>
<text x="185.6" y="441.7" font-size="18" fill="#1a1aff" text-anchor="middle" stroke="#1a1aff" stroke-width="0.35">5h</text>
<text x="195.5" y="387.3" font-size="18" fill="#1a1aff" text-anchor="middle" stroke="#1a1aff" stroke-width="0.35">6h</text>
<text x="204.8" y="330.1" font-size="18" fill="#1a1aff" text-anchor="middle" stroke="#1a1aff" stroke-width="0.35">7h</text>
<text x="213.6" y="271.1" font-size="18" fill="#1a1aff" text-anchor="middle" stroke="#1a1aff" stroke-width="0.35">8h</text>
<text x="222.4" y="210.5" font-size="18" fill="#1a1aff" text-anchor="middle" stroke="#1a1aff" stroke-width="0.35">9h</text>
<text x="227.5" y="148.7" font-size="18" fill="#1a1aff" text-anchor="middle" stroke="#1a1aff" stroke-width="0.35">10h</text>
<text x="267.5" y="82.0" font-size="18" fill="#1a1aff" text-anchor="middle" stroke="#1a1aff" stroke-width="0.35">11h</text>
<text x="589.4" y="87.4" font-size="18" fill="#1a1aff" text-anchor="middle" stroke="#1a1aff" stroke-width="0.35">12h</text>
<text x="623.3" y="153.5" font-size="18" fill="#1a1aff" text-anchor="middle" stroke="#1a1aff" stroke-width="0.35">13h</text>
<text x="635.0" y="215.3" font-size="18" fill="#1a1aff" text-anchor="middle" stroke="#1a1aff" stroke-width="0.35">14h</text>
<text x="643.6" y="275.7" font-size="18" fill="#1a1aff" text-anchor="middle" stroke="#1a1aff" stroke-width="0.35">15h</text>
<text x="652.7" y="334.8" font-size="18" fill="#1a1aff" text-anchor="middle" stroke="#1a1aff" stroke-width="0.35">16h</text>
<text x="661.5" y="392.0" font-size="18" fill="#1a1aff" text-anchor="middle" stroke="#1a1aff" stroke-width="0.35">17h</text>
<text x="671.6" y="447.2" font-size="18" fill="#1a1aff" text-anchor="middle" stroke="#1a1aff" stroke-width="0.35">18h</text>
<text x="321.5" y="431.3" font-size="18" fill="#1a1aff" text-anchor="middle" stroke="#1a1aff" stroke-width="0.35">7h</text>
<text x="336.0" y="384.4" font-size="18" fill="#1a1aff" text-anchor="middle" stroke="#1a1aff" stroke-width="0.35">8h</text>
<text x="355.8" y="344.0" font-size="18" fill="#1a1aff" text-anchor="middle" stroke="#1a1aff" stroke-width="0.35">9h</text>
<text x="384.3" y="313.1" font-size="18" fill="#1a1aff" text-anchor="middle" stroke="#1a1aff" stroke-width="0.35">10h</text>
<text x="412.0" y="297.0" font-size="18" fill="#1a1aff" text-anchor="middle" stroke="#1a1aff" stroke-width="0.35">11h</text>
<text x="443.1" y="298.1" font-size="18" fill="#1a1aff" text-anchor="middle" stroke="#1a1aff" stroke-width="0.35">12h</text>
<text x="470.3" y="317.9" font-size="18" fill="#1a1aff" text-anchor="middle" stroke="#1a1aff" stroke-width="0.35">13h</text>
<text x="492.2" y="349.5" font-size="18" fill="#1a1aff" text-anchor="middle" stroke="#1a1aff" stroke-width="0.35">14h</text>
<text x="510.1" y="391.9" font-size="18" fill="#1a1aff" text-anchor="middle" stroke="#1a1aff" stroke-width="0.35">15h</text>
<text x="524.3" y="440.3" font-size="18" fill="#1a1aff" text-anchor="middle" stroke="#1a1aff" stroke-width="0.35">16h</text>
<rect x="66" y="503.4" width="44.8" height="14.4" fill="#c8c8c8"/>
<rect x="66" y="531.8" width="44.8" height="14.4" fill="#fff1a6"/>
<text x="116.8" y="518.0" font-size="19.5" fill="#555" stroke="#555" stroke-width="0.3" textLength="135.7" lengthAdjust="spacingAndGlyphs" >Terrain horizon</text>
<text x="116.2" y="546.2" font-size="19.5" fill="#555" stroke="#555" stroke-width="0.3" textLength="99.3" lengthAdjust="spacingAndGlyphs" >Active area</text>
<line x1="298" x2="342.6" y1="513.6" y2="513.6" stroke="#1a1aff" stroke-width="1.6"/>
<path d="M327.2 513.6L314.4 510L317 513.6L314.4 517.2Z" fill="#1a1aff" stroke="#1a1aff" stroke-width="0.9" stroke-linejoin="round"/>
<circle cx="310.1" cy="541.3" r="2.3" fill="#111"/><circle cx="330.6" cy="541.3" r="2.3" fill="#111"/>
<text x="346.4" y="518.0" font-size="19.5" fill="#555" stroke="#555" stroke-width="0.3" textLength="165.0" lengthAdjust="spacingAndGlyphs" >IRST (UTC+03:30)</text>
<text x="347.4" y="546.2" font-size="19.5" fill="#555" stroke="#555" stroke-width="0.3" textLength="92.6" lengthAdjust="spacingAndGlyphs" >Solar time</text>
<line x1="556.4" x2="600.5" y1="513.6" y2="513.6" stroke="#ff3c3c" stroke-width="1.6"/>
<line x1="556.4" x2="600.5" y1="541.5" y2="541.5" stroke="#2828ff" stroke-width="1.6"/>
<line x1="556.4" x2="600.5" y1="569.4" y2="569.4" stroke="#2a2a2a" stroke-width="1.6"/>
<text x="606.6" y="518.0" font-size="19.5" fill="#555" stroke="#555" stroke-width="0.3" textLength="120.7" lengthAdjust="spacingAndGlyphs" >June solstice</text>
<text x="605.2" y="546.2" font-size="19.5" fill="#555" stroke="#555" stroke-width="0.3" textLength="170.6" lengthAdjust="spacingAndGlyphs" >December solstice</text>
<text x="605.3" y="574.0" font-size="19.5" fill="#555" stroke="#555" stroke-width="0.3" textLength="71.8" lengthAdjust="spacingAndGlyphs" >Equinox</text>
</svg>
</body></html>
